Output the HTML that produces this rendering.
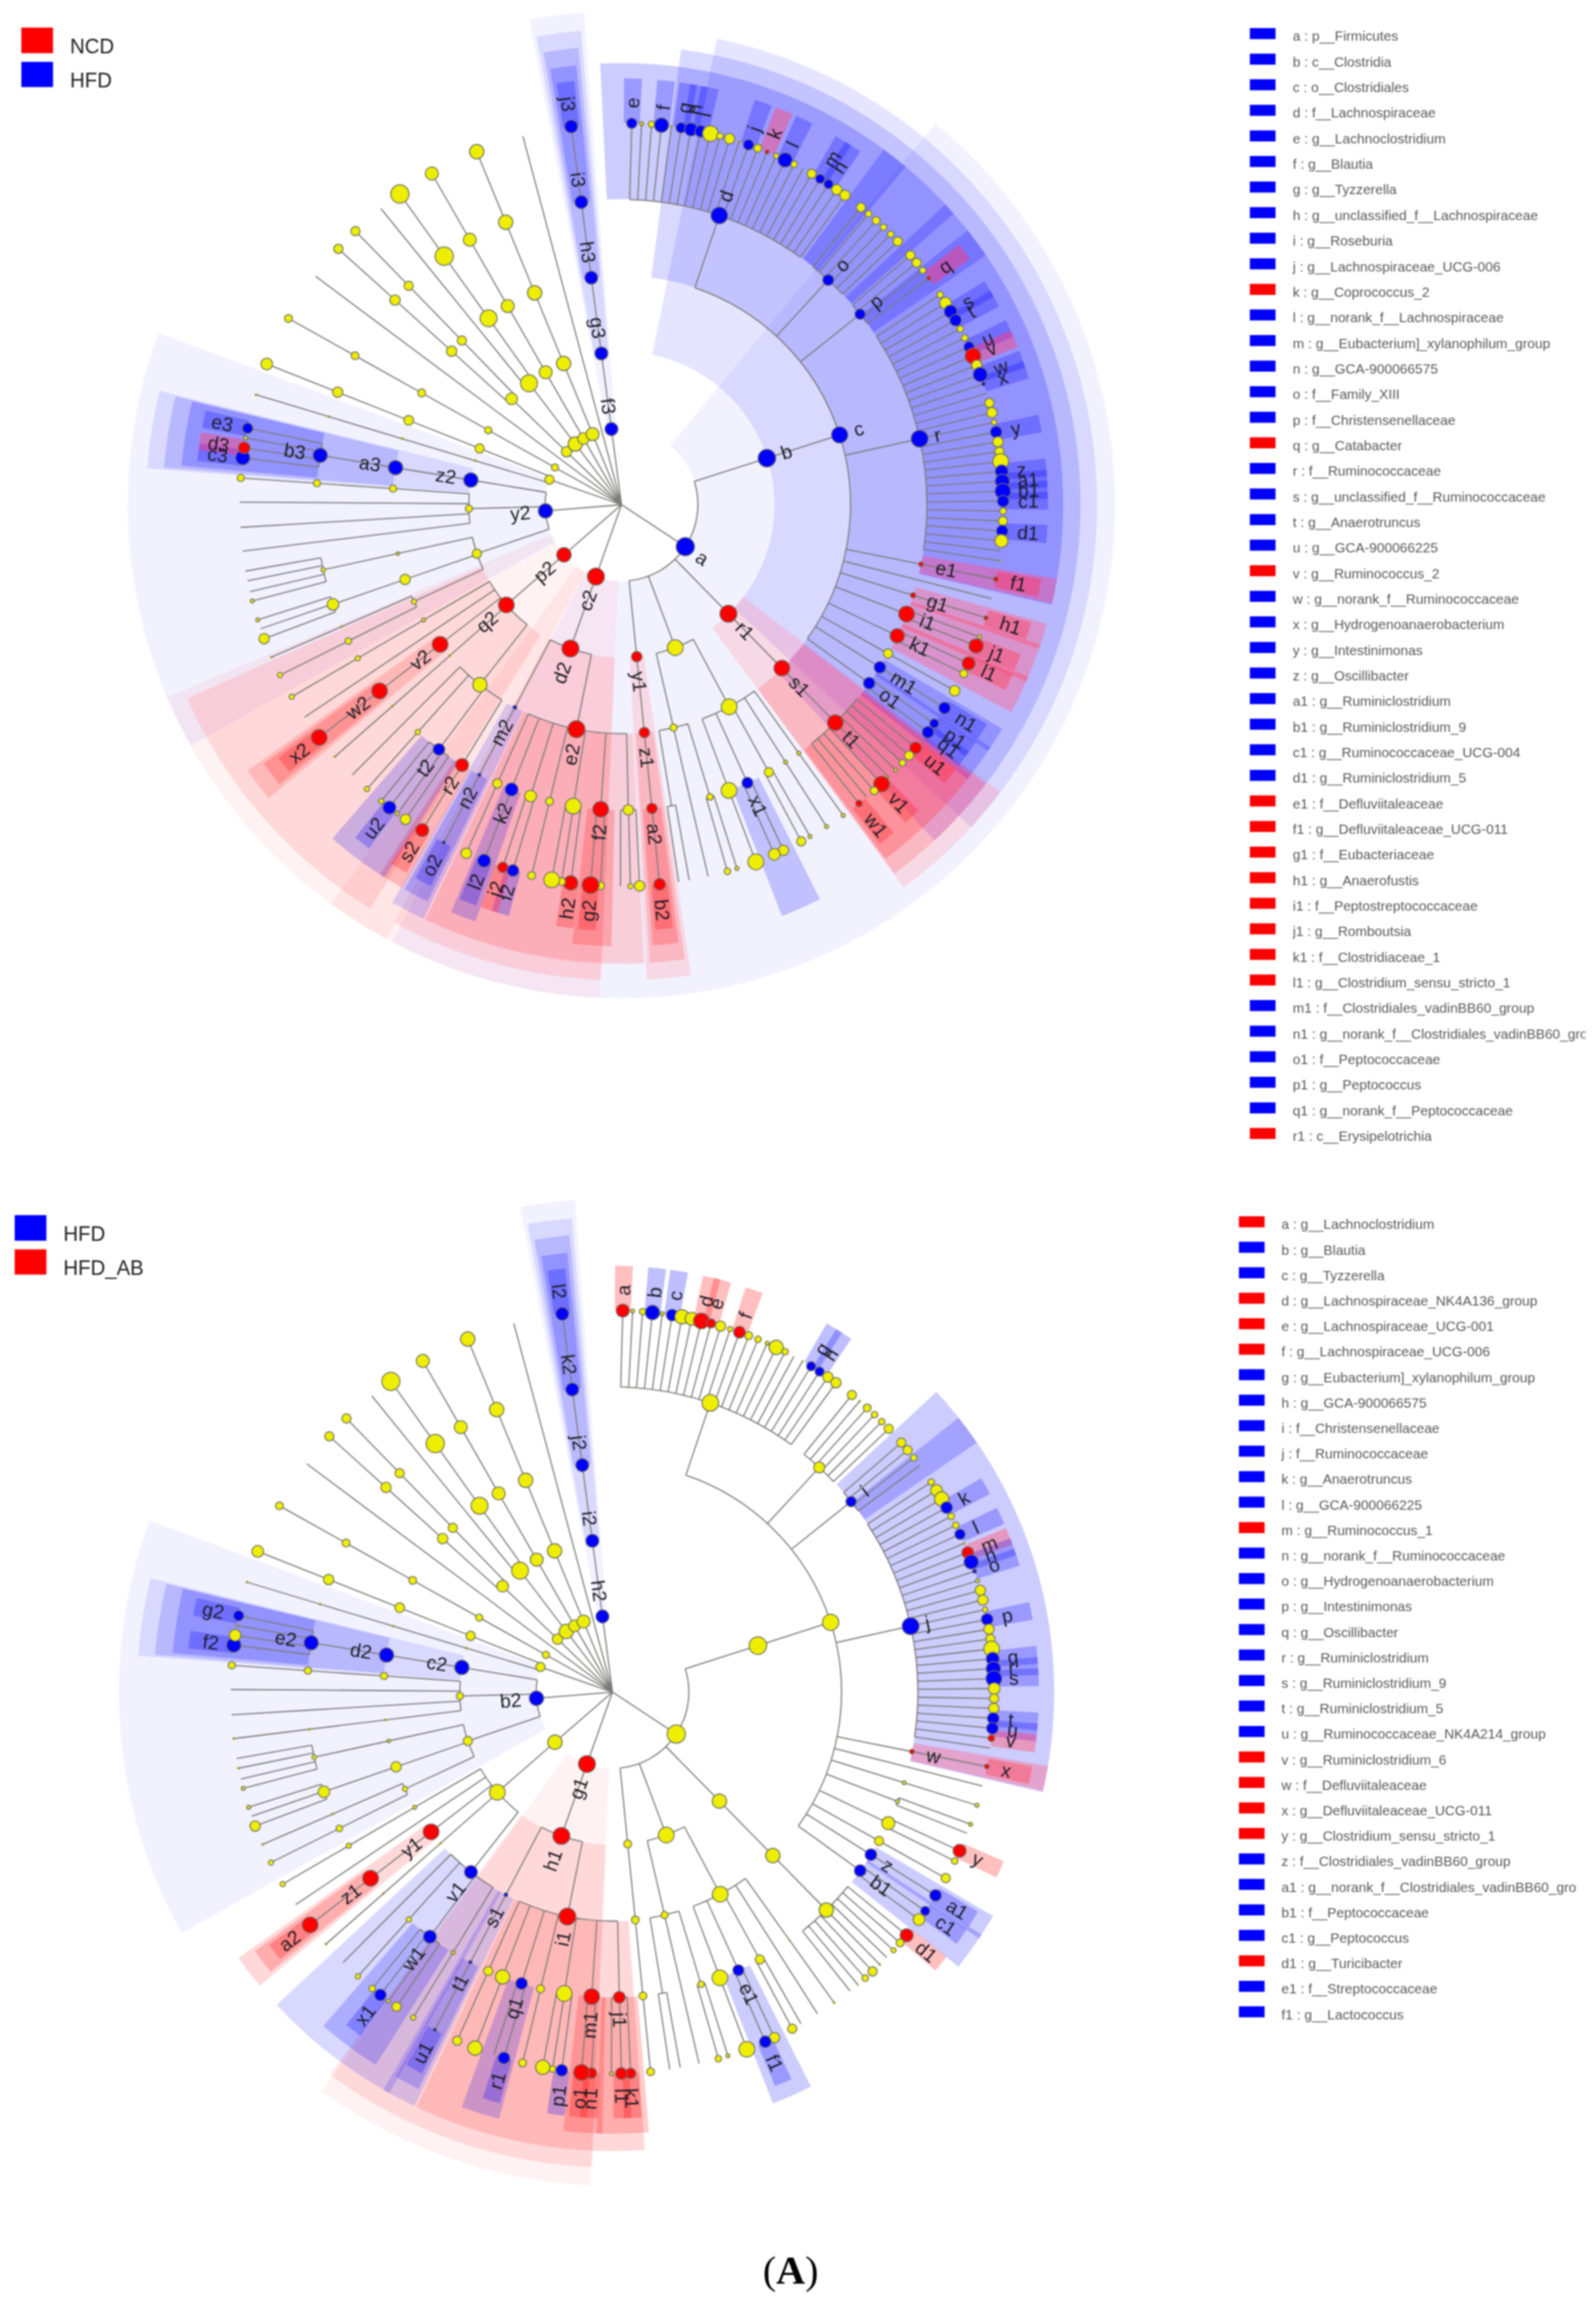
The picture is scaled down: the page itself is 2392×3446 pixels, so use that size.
<!DOCTYPE html>
<html lang="en"><head><meta charset="utf-8"><title>LEfSe cladograms (A)</title>
<style>html,body{margin:0;padding:0;background:#fff}svg{display:block;filter:blur(0.9px)}</style></head>
<body>
<svg width="2392" height="3446" viewBox="0 0 2392 3446" font-family="'Liberation Sans', sans-serif">
<rect width="2392" height="3446" fill="#fff"/>
<g id="clad-top">
<g stroke="none">
<path d="M1004.4 667.9A114.7 114.7 0 0 1 878.2 858.1L587.6 1411.7A740 740 0 0 0 1401.7 185.1Z" fill="#0000ff" fill-opacity="0.05"/>
<path d="M926.3 871.1A114.7 114.7 0 0 1 864 849.2L495.9 1354.7A740 740 0 0 0 897.8 1495.7Z" fill="#ff0000" fill-opacity="0.05"/>
<path d="M926.3 871.1A114.7 114.7 0 0 1 864 849.2L495.9 1354.7A740 740 0 0 0 897.8 1495.7Z" fill="#ff0000" fill-opacity="0.33" style="mix-blend-mode:lighten"/>
<path d="M877 857.4A114.7 114.7 0 0 1 825.9 801.2L250 1045A740 740 0 0 0 579.7 1407.5Z" fill="#ff0000" fill-opacity="0.05"/>
<path d="M877 857.4A114.7 114.7 0 0 1 825.9 801.2L250 1045A740 740 0 0 0 579.7 1407.5Z" fill="#ff0000" fill-opacity="0.33" style="mix-blend-mode:lighten"/>
<path d="M831.4 812.5A114.7 114.7 0 0 1 823.9 716.6L237.6 499.3A740 740 0 0 0 285.7 1117.7Z" fill="#0000ff" fill-opacity="0.05"/>
<path d="M910 643.8A114.7 114.7 0 0 1 922.8 642.1L875.1 18.7A740 740 0 0 0 793.1 29.6Z" fill="#0000ff" fill-opacity="0.05"/>
<path d="M977.4 532A229.1 229.1 0 0 1 1099.9 911.9L1455.5 1240A713 713 0 0 0 1074.4 58Z" fill="#0000ff" fill-opacity="0.10"/>
<path d="M1114 895A229.1 229.1 0 0 1 1067.5 940.9L1354.6 1330.4A713 713 0 0 0 1499.5 1187.5Z" fill="#ff0000" fill-opacity="0.10"/>
<path d="M1114 895A229.1 229.1 0 0 1 1067.5 940.9L1354.6 1330.4A713 713 0 0 0 1499.5 1187.5Z" fill="#ff0000" fill-opacity="0.33" style="mix-blend-mode:lighten"/>
<path d="M921.7 985.4A229.1 229.1 0 0 1 822.2 957.9L591.4 1383.2A713 713 0 0 0 900.9 1468.8Z" fill="#ff0000" fill-opacity="0.10"/>
<path d="M921.7 985.4A229.1 229.1 0 0 1 822.2 957.9L591.4 1383.2A713 713 0 0 0 900.9 1468.8Z" fill="#ff0000" fill-opacity="0.33" style="mix-blend-mode:lighten"/>
<path d="M810.5 951A229.1 229.1 0 0 1 722.3 849.8L280.3 1046.9A713 713 0 0 0 554.9 1362Z" fill="#ff0000" fill-opacity="0.10"/>
<path d="M810.5 951A229.1 229.1 0 0 1 722.3 849.8L280.3 1046.9A713 713 0 0 0 554.9 1362Z" fill="#ff0000" fill-opacity="0.33" style="mix-blend-mode:lighten"/>
<path d="M703.1 739A229.1 229.1 0 0 1 709.1 701.7L239.2 585.8A713 713 0 0 0 220.6 702.1Z" fill="#0000ff" fill-opacity="0.10"/>
<path d="M965.1 983.1A229.1 229.1 0 0 1 943.6 985.3L969.2 1468.5A713 713 0 0 0 1035.9 1461.8Z" fill="#ff0000" fill-opacity="0.10"/>
<path d="M965.1 983.1A229.1 229.1 0 0 1 943.6 985.3L969.2 1468.5A713 713 0 0 0 1035.9 1461.8Z" fill="#ff0000" fill-opacity="0.33" style="mix-blend-mode:lighten"/>
<path d="M890.6 531.1A229.1 229.1 0 0 1 912 528.2L870.9 46.1A713 713 0 0 0 804.2 54.9Z" fill="#0000ff" fill-opacity="0.10"/>
<path d="M976.1 415.9A343.5 343.5 0 0 1 1165.8 1007.7L1400.7 1259.7A688 688 0 0 0 1020.7 74.3Z" fill="#0000ff" fill-opacity="0.15"/>
<path d="M1204.1 965.6A343.5 343.5 0 0 1 1135.8 1032.6L1340.7 1309.6A688 688 0 0 0 1477.4 1175.2Z" fill="#ff0000" fill-opacity="0.15"/>
<path d="M1204.1 965.6A343.5 343.5 0 0 1 1135.8 1032.6L1340.7 1309.6A688 688 0 0 0 1477.4 1175.2Z" fill="#ff0000" fill-opacity="0.33" style="mix-blend-mode:lighten"/>
<path d="M948.5 1099.6A343.5 343.5 0 0 1 784.7 1067.1L637.5 1378.5A688 688 0 0 0 965.5 1443.7Z" fill="#ff0000" fill-opacity="0.15"/>
<path d="M948.5 1099.6A343.5 343.5 0 0 1 784.7 1067.1L637.5 1378.5A688 688 0 0 0 965.5 1443.7Z" fill="#ff0000" fill-opacity="0.33" style="mix-blend-mode:lighten"/>
<path d="M589.1 728.5A343.5 343.5 0 0 1 597.7 675.4L262.9 594.1A688 688 0 0 0 245.8 700.5Z" fill="#0000ff" fill-opacity="0.15"/>
<path d="M978.8 1096.7A343.5 343.5 0 0 1 952.6 1099.3L973.9 1443.2A688 688 0 0 0 1026.3 1437.9Z" fill="#ff0000" fill-opacity="0.15"/>
<path d="M978.8 1096.7A343.5 343.5 0 0 1 952.6 1099.3L973.9 1443.2A688 688 0 0 0 1026.3 1437.9Z" fill="#ff0000" fill-opacity="0.33" style="mix-blend-mode:lighten"/>
<path d="M783.4 1066.4A343.5 343.5 0 0 1 760.1 1054.2L588.2 1352.7A688 688 0 0 0 634.8 1377.2Z" fill="#0000ff" fill-opacity="0.15"/>
<path d="M667.5 976.3A343.5 343.5 0 0 1 651.5 955.5L370.7 1155A688 688 0 0 0 402.8 1196.7Z" fill="#ff0000" fill-opacity="0.15"/>
<path d="M667.5 976.3A343.5 343.5 0 0 1 651.5 955.5L370.7 1155A688 688 0 0 0 402.8 1196.7Z" fill="#ff0000" fill-opacity="0.33" style="mix-blend-mode:lighten"/>
<path d="M873.1 418A343.5 343.5 0 0 1 899.3 414.5L867.1 71.5A688 688 0 0 0 814.6 78.5Z" fill="#0000ff" fill-opacity="0.15"/>
<path d="M909.4 299.1A457.9 457.9 0 0 1 1226.1 406L1357.5 249.7A662 662 0 0 0 899.5 95.3Z" fill="#0000ff" fill-opacity="0.20"/>
<path d="M1203.5 388.1A457.9 457.9 0 0 1 1275.9 454.8L1429.4 320.3A662 662 0 0 0 1324.7 223.9Z" fill="#0000ff" fill-opacity="0.20"/>
<path d="M1267.3 445.2A457.9 457.9 0 0 1 1309.3 497.8L1477.7 382.5A662 662 0 0 0 1417 306.5Z" fill="#0000ff" fill-opacity="0.20"/>
<path d="M1290.3 472A457.9 457.9 0 0 1 1377.5 860.3L1576.3 906.5A662 662 0 0 0 1450.2 345.2Z" fill="#0000ff" fill-opacity="0.20"/>
<path d="M1382.9 833.2A457.9 457.9 0 0 1 1377.8 859.1L1576.7 904.8A662 662 0 0 0 1584.2 867.4Z" fill="#ff0000" fill-opacity="0.20"/>
<path d="M1382.9 833.2A457.9 457.9 0 0 1 1377.8 859.1L1576.7 904.8A662 662 0 0 0 1584.2 867.4Z" fill="#ff0000" fill-opacity="0.33" style="mix-blend-mode:lighten"/>
<path d="M1372.4 880.1A457.9 457.9 0 0 1 1364.3 906L1557.2 972.7A662 662 0 0 0 1568.9 935.1Z" fill="#ff0000" fill-opacity="0.20"/>
<path d="M1372.4 880.1A457.9 457.9 0 0 1 1364.3 906L1557.2 972.7A662 662 0 0 0 1568.9 935.1Z" fill="#ff0000" fill-opacity="0.33" style="mix-blend-mode:lighten"/>
<path d="M1365.7 901.9A457.9 457.9 0 0 1 1351 940L1538 1021.7A662 662 0 0 0 1559.3 966.7Z" fill="#ff0000" fill-opacity="0.20"/>
<path d="M1365.7 901.9A457.9 457.9 0 0 1 1351 940L1538 1021.7A662 662 0 0 0 1559.3 966.7Z" fill="#ff0000" fill-opacity="0.33" style="mix-blend-mode:lighten"/>
<path d="M1353.3 934.8A457.9 457.9 0 0 1 1335.7 971.7L1515.9 1067.6A662 662 0 0 0 1541.2 1014.3Z" fill="#ff0000" fill-opacity="0.20"/>
<path d="M1353.3 934.8A457.9 457.9 0 0 1 1335.7 971.7L1515.9 1067.6A662 662 0 0 0 1541.2 1014.3Z" fill="#ff0000" fill-opacity="0.33" style="mix-blend-mode:lighten"/>
<path d="M1326.1 988.8A457.9 457.9 0 0 1 1311.6 1011.8L1481.1 1125.6A662 662 0 0 0 1502 1092.3Z" fill="#0000ff" fill-opacity="0.20"/>
<path d="M1314.1 1008.1A457.9 457.9 0 0 1 1290.1 1041.2L1450 1168.1A662 662 0 0 0 1484.6 1120.3Z" fill="#0000ff" fill-opacity="0.20"/>
<path d="M1293.1 1037.4A457.9 457.9 0 0 1 1205.2 1123.6L1327.1 1287.3A662 662 0 0 0 1454.3 1162.6Z" fill="#ff0000" fill-opacity="0.20"/>
<path d="M1293.1 1037.4A457.9 457.9 0 0 1 1205.2 1123.6L1327.1 1287.3A662 662 0 0 0 1454.3 1162.6Z" fill="#ff0000" fill-opacity="0.33" style="mix-blend-mode:lighten"/>
<path d="M1137.3 1165.6A457.9 457.9 0 0 1 1097.9 1183.1L1172 1373.3A662 662 0 0 0 1229 1347.9Z" fill="#0000ff" fill-opacity="0.20"/>
<path d="M921 1214.3A457.9 457.9 0 0 1 880.5 1211.5L857.7 1414.4A662 662 0 0 0 916.3 1418.3Z" fill="#ff0000" fill-opacity="0.20"/>
<path d="M921 1214.3A457.9 457.9 0 0 1 880.5 1211.5L857.7 1414.4A662 662 0 0 0 916.3 1418.3Z" fill="#ff0000" fill-opacity="0.33" style="mix-blend-mode:lighten"/>
<path d="M780 1188.6A457.9 457.9 0 0 1 754.7 1178.9L676 1367.2A662 662 0 0 0 712.5 1381.2Z" fill="#0000ff" fill-opacity="0.20"/>
<path d="M704 1153.9A457.9 457.9 0 0 1 680.9 1139.8L569.3 1310.6A662 662 0 0 0 602.6 1331Z" fill="#ff0000" fill-opacity="0.20"/>
<path d="M704 1153.9A457.9 457.9 0 0 1 680.9 1139.8L569.3 1310.6A662 662 0 0 0 602.6 1331Z" fill="#ff0000" fill-opacity="0.33" style="mix-blend-mode:lighten"/>
<path d="M686 1143A457.9 457.9 0 0 1 631.7 1102.6L498.1 1256.9A662 662 0 0 0 576.5 1315.3Z" fill="#0000ff" fill-opacity="0.20"/>
<path d="M475.4 716A457.9 457.9 0 0 1 486.3 649.2L287.9 601.4A662 662 0 0 0 272.1 698Z" fill="#0000ff" fill-opacity="0.20"/>
<path d="M990.7 1210.6A457.9 457.9 0 0 1 963.7 1213.3L978 1416.9A662 662 0 0 0 1017 1413Z" fill="#ff0000" fill-opacity="0.20"/>
<path d="M990.7 1210.6A457.9 457.9 0 0 1 963.7 1213.3L978 1416.9A662 662 0 0 0 1017 1413Z" fill="#ff0000" fill-opacity="0.33" style="mix-blend-mode:lighten"/>
<path d="M730.4 1167.9A457.9 457.9 0 0 1 706.5 1155.3L606.2 1333A662 662 0 0 0 640.8 1351.3Z" fill="#0000ff" fill-opacity="0.20"/>
<path d="M577.1 1046.4A457.9 457.9 0 0 1 560.6 1025L395.2 1144.6A662 662 0 0 0 419.1 1175.7Z" fill="#ff0000" fill-opacity="0.20"/>
<path d="M577.1 1046.4A457.9 457.9 0 0 1 560.6 1025L395.2 1144.6A662 662 0 0 0 419.1 1175.7Z" fill="#ff0000" fill-opacity="0.33" style="mix-blend-mode:lighten"/>
<path d="M857.7 304.6A457.9 457.9 0 0 1 884.6 301L863.7 98A662 662 0 0 0 824.7 103.2Z" fill="#0000ff" fill-opacity="0.20"/>
<path d="M934.9 184.2A572.3 572.3 0 0 1 958.9 184.9L962.1 118.2A639 639 0 0 0 935.3 117.5Z" fill="#0000ff" fill-opacity="0.25"/>
<path d="M979.5 186.2A572.3 572.3 0 0 1 1003.4 188.7L1011.7 122.6A639 639 0 0 0 985.1 119.7Z" fill="#0000ff" fill-opacity="0.25"/>
<path d="M1009.1 189.5A572.3 572.3 0 0 1 1032.8 193.2L1044.6 127.6A639 639 0 0 0 1018.1 123.4Z" fill="#0000ff" fill-opacity="0.25"/>
<path d="M1023.8 191.7A572.3 572.3 0 0 1 1047.4 196.1L1060.9 130.7A639 639 0 0 0 1034.5 125.9Z" fill="#0000ff" fill-opacity="0.25"/>
<path d="M1038.4 194.3A572.3 572.3 0 0 1 1062 199.3L1077.2 134.3A639 639 0 0 0 1050.9 128.8Z" fill="#0000ff" fill-opacity="0.25"/>
<path d="M1110.5 212.9A572.3 572.3 0 0 1 1133.2 220.9L1156.7 158.5A639 639 0 0 0 1131.3 149.6Z" fill="#0000ff" fill-opacity="0.25"/>
<path d="M1138.5 223A572.3 572.3 0 0 1 1160.7 232.1L1187.5 171A639 639 0 0 0 1162.7 160.8Z" fill="#ff0000" fill-opacity="0.25"/>
<path d="M1138.5 223A572.3 572.3 0 0 1 1160.7 232.1L1187.5 171A639 639 0 0 0 1162.7 160.8Z" fill="#ff0000" fill-opacity="0.33" style="mix-blend-mode:lighten"/>
<path d="M1166 234.5A572.3 572.3 0 0 1 1187.7 244.8L1217.6 185.1A639 639 0 0 0 1193.3 173.6Z" fill="#0000ff" fill-opacity="0.25"/>
<path d="M1219 261.7A572.3 572.3 0 0 1 1239.5 274.2L1275.4 218A639 639 0 0 0 1252.5 204Z" fill="#0000ff" fill-opacity="0.25"/>
<path d="M1231.8 269.3A572.3 572.3 0 0 1 1252 282.4L1289.3 227.1A639 639 0 0 0 1266.8 212.5Z" fill="#0000ff" fill-opacity="0.25"/>
<path d="M1384.9 407.3A572.3 572.3 0 0 1 1399.2 426.6L1453.7 388.2A639 639 0 0 0 1437.7 366.5Z" fill="#ff0000" fill-opacity="0.25"/>
<path d="M1384.9 407.3A572.3 572.3 0 0 1 1399.2 426.6L1453.7 388.2A639 639 0 0 0 1437.7 366.5Z" fill="#ff0000" fill-opacity="0.33" style="mix-blend-mode:lighten"/>
<path d="M1418.9 456.5A572.3 572.3 0 0 1 1431.1 477.3L1489.3 444.7A639 639 0 0 0 1475.7 421.6Z" fill="#0000ff" fill-opacity="0.25"/>
<path d="M1426.5 469.3A572.3 572.3 0 0 1 1438.2 490.4L1497.2 459.4A639 639 0 0 0 1484.2 435.9Z" fill="#0000ff" fill-opacity="0.25"/>
<path d="M1447.5 508.9A572.3 572.3 0 0 1 1457.4 530.8L1518.7 504.5A639 639 0 0 0 1507.6 480.1Z" fill="#0000ff" fill-opacity="0.25"/>
<path d="M1453.8 522.5A572.3 572.3 0 0 1 1463.1 544.6L1525.1 519.9A639 639 0 0 0 1514.6 495.2Z" fill="#ff0000" fill-opacity="0.25"/>
<path d="M1453.8 522.5A572.3 572.3 0 0 1 1463.1 544.6L1525.1 519.9A639 639 0 0 0 1514.6 495.2Z" fill="#ff0000" fill-opacity="0.33" style="mix-blend-mode:lighten"/>
<path d="M1465.2 550A572.3 572.3 0 0 1 1473.4 572.6L1536.6 551.2A639 639 0 0 0 1527.5 525.9Z" fill="#0000ff" fill-opacity="0.25"/>
<path d="M1470.4 564A572.3 572.3 0 0 1 1478.1 586.8L1541.8 567A639 639 0 0 0 1533.3 541.5Z" fill="#0000ff" fill-opacity="0.25"/>
<path d="M1490.9 635.7A572.3 572.3 0 0 1 1495.5 659.3L1561.2 648A639 639 0 0 0 1556.1 621.6Z" fill="#0000ff" fill-opacity="0.25"/>
<path d="M1500.4 694.6A572.3 572.3 0 0 1 1502.5 718.5L1569.1 714.1A639 639 0 0 0 1566.7 687.3Z" fill="#0000ff" fill-opacity="0.25"/>
<path d="M1501.9 709.4A572.3 572.3 0 0 1 1503.3 733.4L1570 730.7A639 639 0 0 0 1568.3 703.9Z" fill="#0000ff" fill-opacity="0.25"/>
<path d="M1502.9 724.3A572.3 572.3 0 0 1 1503.7 748.3L1570.4 747.4A639 639 0 0 0 1569.5 720.5Z" fill="#0000ff" fill-opacity="0.25"/>
<path d="M1503.5 739.2A572.3 572.3 0 0 1 1503.8 763.2L1570.5 764A639 639 0 0 0 1570.2 737.2Z" fill="#0000ff" fill-opacity="0.25"/>
<path d="M1503.1 783.9A572.3 572.3 0 0 1 1501.5 807.9L1567.9 813.9A639 639 0 0 0 1569.8 787.1Z" fill="#0000ff" fill-opacity="0.25"/>
<path d="M1495 856.3A572.3 572.3 0 0 1 1490.3 879.9L1555.5 894.2A639 639 0 0 0 1560.7 867.9Z" fill="#ff0000" fill-opacity="0.25"/>
<path d="M1495 856.3A572.3 572.3 0 0 1 1490.3 879.9L1555.5 894.2A639 639 0 0 0 1560.7 867.9Z" fill="#ff0000" fill-opacity="0.33" style="mix-blend-mode:lighten"/>
<path d="M1481.5 914.8A572.3 572.3 0 0 1 1474.4 937.7L1537.6 958.8A639 639 0 0 0 1545.6 933.2Z" fill="#ff0000" fill-opacity="0.25"/>
<path d="M1481.5 914.8A572.3 572.3 0 0 1 1474.4 937.7L1537.6 958.8A639 639 0 0 0 1545.6 933.2Z" fill="#ff0000" fill-opacity="0.33" style="mix-blend-mode:lighten"/>
<path d="M1467.5 957.1A572.3 572.3 0 0 1 1458.6 979.4L1520.1 1005.3A639 639 0 0 0 1530 980.4Z" fill="#ff0000" fill-opacity="0.25"/>
<path d="M1467.5 957.1A572.3 572.3 0 0 1 1458.6 979.4L1520.1 1005.3A639 639 0 0 0 1530 980.4Z" fill="#ff0000" fill-opacity="0.33" style="mix-blend-mode:lighten"/>
<path d="M1456.8 983.5A572.3 572.3 0 0 1 1446.9 1005.4L1506.9 1034.4A639 639 0 0 0 1518.1 1010Z" fill="#ff0000" fill-opacity="0.25"/>
<path d="M1456.8 983.5A572.3 572.3 0 0 1 1446.9 1005.4L1506.9 1034.4A639 639 0 0 0 1518.1 1010Z" fill="#ff0000" fill-opacity="0.33" style="mix-blend-mode:lighten"/>
<path d="M1422.1 1051.1A572.3 572.3 0 0 1 1409.4 1071.4L1465.1 1108.1A639 639 0 0 0 1479.3 1085.4Z" fill="#0000ff" fill-opacity="0.25"/>
<path d="M1407.1 1074.8A572.3 572.3 0 0 1 1393.4 1094.4L1447.2 1133.8A639 639 0 0 0 1462.6 1111.8Z" fill="#0000ff" fill-opacity="0.25"/>
<path d="M1398.1 1087.9A572.3 572.3 0 0 1 1383.8 1107.2L1436.5 1148.1A639 639 0 0 0 1452.4 1126.6Z" fill="#0000ff" fill-opacity="0.25"/>
<path d="M1380.1 1111.9A572.3 572.3 0 0 1 1364.8 1130.4L1415.3 1174A639 639 0 0 0 1432.3 1153.3Z" fill="#ff0000" fill-opacity="0.25"/>
<path d="M1380.1 1111.9A572.3 572.3 0 0 1 1364.8 1130.4L1415.3 1174A639 639 0 0 0 1432.3 1153.3Z" fill="#ff0000" fill-opacity="0.33" style="mix-blend-mode:lighten"/>
<path d="M1330.1 1167.1A572.3 572.3 0 0 1 1312.6 1183.5L1357 1233.2A639 639 0 0 0 1376.6 1215Z" fill="#ff0000" fill-opacity="0.25"/>
<path d="M1330.1 1167.1A572.3 572.3 0 0 1 1312.6 1183.5L1357 1233.2A639 639 0 0 0 1376.6 1215Z" fill="#ff0000" fill-opacity="0.33" style="mix-blend-mode:lighten"/>
<path d="M1296.9 1197A572.3 572.3 0 0 1 1278.1 1211.9L1318.6 1264.9A639 639 0 0 0 1339.5 1248.3Z" fill="#ff0000" fill-opacity="0.25"/>
<path d="M1296.9 1197A572.3 572.3 0 0 1 1278.1 1211.9L1318.6 1264.9A639 639 0 0 0 1339.5 1248.3Z" fill="#ff0000" fill-opacity="0.33" style="mix-blend-mode:lighten"/>
<path d="M1000.5 1324.6A572.3 572.3 0 0 1 976.7 1327L981.9 1393.5A639 639 0 0 0 1008.5 1390.8Z" fill="#ff0000" fill-opacity="0.25"/>
<path d="M1000.5 1324.6A572.3 572.3 0 0 1 976.7 1327L981.9 1393.5A639 639 0 0 0 1008.5 1390.8Z" fill="#ff0000" fill-opacity="0.33" style="mix-blend-mode:lighten"/>
<path d="M897 1327.8A572.3 572.3 0 0 1 873.2 1325.8L866.4 1392.2A639 639 0 0 0 893 1394.3Z" fill="#ff0000" fill-opacity="0.25"/>
<path d="M897 1327.8A572.3 572.3 0 0 1 873.2 1325.8L866.4 1392.2A639 639 0 0 0 893 1394.3Z" fill="#ff0000" fill-opacity="0.33" style="mix-blend-mode:lighten"/>
<path d="M867.2 1325.2A572.3 572.3 0 0 1 843.5 1322L833.3 1387.9A639 639 0 0 0 859.7 1391.5Z" fill="#ff0000" fill-opacity="0.25"/>
<path d="M867.2 1325.2A572.3 572.3 0 0 1 843.5 1322L833.3 1387.9A639 639 0 0 0 859.7 1391.5Z" fill="#ff0000" fill-opacity="0.33" style="mix-blend-mode:lighten"/>
<path d="M780.2 1308.4A572.3 572.3 0 0 1 757.3 1301.6L737 1365.2A639 639 0 0 0 762.6 1372.8Z" fill="#0000ff" fill-opacity="0.25"/>
<path d="M764.9 1304A572.3 572.3 0 0 1 742.2 1296.6L720.1 1359.5A639 639 0 0 0 745.5 1367.8Z" fill="#ff0000" fill-opacity="0.25"/>
<path d="M764.9 1304A572.3 572.3 0 0 1 742.2 1296.6L720.1 1359.5A639 639 0 0 0 745.5 1367.8Z" fill="#ff0000" fill-opacity="0.33" style="mix-blend-mode:lighten"/>
<path d="M736.6 1294.6A572.3 572.3 0 0 1 714.3 1286L688.9 1347.7A639 639 0 0 0 713.8 1357.3Z" fill="#0000ff" fill-opacity="0.25"/>
<path d="M675.7 1268.5A572.3 572.3 0 0 1 654.6 1257.3L622.3 1315.7A639 639 0 0 0 645.9 1328.1Z" fill="#0000ff" fill-opacity="0.25"/>
<path d="M642.9 1250.7A572.3 572.3 0 0 1 622.5 1238.2L586.5 1294.4A639 639 0 0 0 609.3 1308.3Z" fill="#ff0000" fill-opacity="0.25"/>
<path d="M642.9 1250.7A572.3 572.3 0 0 1 622.5 1238.2L586.5 1294.4A639 639 0 0 0 609.3 1308.3Z" fill="#ff0000" fill-opacity="0.33" style="mix-blend-mode:lighten"/>
<path d="M593 1217.9A572.3 572.3 0 0 1 574 1203.4L532.3 1255.5A639 639 0 0 0 553.5 1271.7Z" fill="#0000ff" fill-opacity="0.25"/>
<path d="M485.4 1115A572.3 572.3 0 0 1 470.8 1096.1L417.1 1135.7A639 639 0 0 0 433.4 1156.8Z" fill="#ff0000" fill-opacity="0.25"/>
<path d="M485.4 1115A572.3 572.3 0 0 1 470.8 1096.1L417.1 1135.7A639 639 0 0 0 433.4 1156.8Z" fill="#ff0000" fill-opacity="0.33" style="mix-blend-mode:lighten"/>
<path d="M362.2 698A572.3 572.3 0 0 1 365.1 674.3L299.1 664.7A639 639 0 0 0 295.8 691.2Z" fill="#0000ff" fill-opacity="0.25"/>
<path d="M363.9 683.1A572.3 572.3 0 0 1 367.5 659.5L301.7 648.2A639 639 0 0 0 297.8 674.6Z" fill="#ff0000" fill-opacity="0.25"/>
<path d="M363.9 683.1A572.3 572.3 0 0 1 367.5 659.5L301.7 648.2A639 639 0 0 0 297.8 674.6Z" fill="#ff0000" fill-opacity="0.33" style="mix-blend-mode:lighten"/>
<path d="M368.5 653.6A572.3 572.3 0 0 1 373.3 630.2L308.3 615.5A639 639 0 0 0 302.9 641.6Z" fill="#0000ff" fill-opacity="0.25"/>
<path d="M844.2 190.9A572.3 572.3 0 0 1 868 187.7L860.5 121.5A639 639 0 0 0 834 125Z" fill="#0000ff" fill-opacity="0.25"/>
</g>
<path d="M931.5 756.5L1027.1 819.4M1040.5 721.6A114.4 114.4 0 0 1 942.9 870.3M1040.5 721.6L1149.4 686.8M1149.4 686.8L1258.4 651.9M1041.4 431.4A343.2 343.2 0 0 1 1209.9 957.2M1041.4 431.4L1078.1 323M943.8 299.1A457.6 457.6 0 0 1 1199.4 385.5M943.8 299.1L946.9 184.7M955.7 299.5L961.7 185.3M967.6 300.3L976.6 186.3M979.4 301.4L991.4 187.6M991.2 302.8L1006.2 189.4M1003 304.5L1020.9 191.5M1014.8 306.5L1035.6 194M1026.4 308.9L1050.2 196.9M1038 311.5L1064.7 200.2M1049.6 314.4L1079.1 203.9M1061 317.6L1093.4 207.9M1072.4 321.1L1107.7 212.3M1083.7 325L1121.8 217.1M1094.9 329.1L1135.7 222.2M1106 333.5L1149.6 227.7M1116.9 338.1L1163.3 233.6M1127.7 343.1L1176.8 239.8M1138.4 348.4L1190.2 246.3M1149 353.9L1203.4 253.2M1159.4 359.7L1216.4 260.5M1169.6 365.7L1229.2 268.1M1179.7 372.1L1241.8 276M1189.7 378.7L1254.2 284.2M1199.4 385.5L1266.4 292.8M1163.8 503.9L1241.3 419.7M1218.5 400.1A457.6 457.6 0 0 1 1262.7 440.8M1218.5 400.1L1290.3 311M1227.8 407.8L1301.8 320.6M1236.8 415.7L1313.2 330.5M1245.7 423.8L1324.2 340.6M1254.3 432.2L1335 351.1M1262.7 440.8L1345.5 361.8M1199.7 542.3L1289.1 470.9M1277.8 457.4A457.6 457.6 0 0 1 1299.8 484.9M1277.8 457.4L1364.4 382.6M1285.4 466.4L1373.8 393.8M1292.7 475.6L1383 405.3M1299.8 484.9L1391.9 417M1266.6 682.3L1378.3 657.6M1313.6 504.6A457.6 457.6 0 0 1 1384.2 823.6M1313.6 504.6L1409.1 441.7M1320 514.7L1417.1 454.2M1326.2 524.9L1424.8 467M1332.1 535.3L1432.2 480M1337.7 545.8L1439.2 493.1M1343.1 556.5L1445.9 506.4M1348.1 567.2L1452.3 519.9M1352.9 578.2L1458.3 533.6M1357.4 589.2L1463.9 547.4M1361.6 600.4L1469.2 561.4M1365.6 611.7L1474.1 575.4M1369.2 623L1478.6 589.7M1372.5 634.5L1482.8 604M1375.6 646L1486.6 618.4M1378.3 657.6L1490 632.9M1380.7 669.3L1493 647.5M1382.8 681.1L1495.7 662.2M1384.7 692.8L1497.9 676.9M1386.2 704.7L1499.8 691.7M1387.4 716.5L1501.3 706.6M1388.2 728.4L1502.4 721.4M1388.8 740.4L1503.1 736.3M1389.1 752.3L1503.5 751.2M1389 764.2L1503.4 766.1M1388.7 776.1L1503 781M1388 788L1502.1 795.9M1387 799.9L1500.9 810.8M1385.8 811.8L1499.3 825.6M1384.2 823.6L1497.3 840.3M1268.1 823.4L1380.3 845.7M1380.3 845.7L1492.5 868M1264.1 841L1375 869.1M1375 869.1L1485.9 897.3M1259.2 858.3L1368.5 892.3M1368.5 892.3L1477.7 926.2M1251.9 879.4L1358.7 920.4M1360.8 915A457.6 457.6 0 0 1 1356.6 925.8M1360.8 915L1468.1 954.6M1356.6 925.8L1462.9 968.2M1241.5 903.8L1344.8 953M1347.7 946.8A457.6 457.6 0 0 1 1341.8 959.1M1347.7 946.8L1451.7 994.4M1341.8 959.1L1444.4 1009.7M1231.1 923.8L1331 979.6M1331 979.6L1430.9 1035.4M1222 939.3L1318.8 1000.2M1318.8 1000.2L1415.6 1061.2M1209.9 957.2L1302.7 1024.1M1306.4 1018.9A457.6 457.6 0 0 1 1298.9 1029.3M1306.4 1018.9L1400.1 1084.5M1298.9 1029.3L1390.8 1097.5M1011.6 838.2L1091.7 919.9M1091.7 919.9L1171.8 1001.5M1171.8 1001.5L1251.9 1083.2M1284.1 1048.1A457.6 457.6 0 0 1 1216.2 1114.7M1284.1 1048.1L1372.3 1121M1276.4 1057.2L1362.6 1132.4M1268.5 1066.1L1352.7 1143.5M1260.3 1074.8L1342.5 1154.3M1251.9 1083.2L1332 1164.9M1243.3 1091.4L1321.3 1175.2M1234.5 1099.4L1310.2 1185.2M1225.5 1107.2L1299 1194.9M1216.2 1114.7L1287.4 1204.3M971.7 863.6L1012 970.7M1039.1 958.4A228.8 228.8 0 0 1 983.5 979.3M1039.1 958.4L1092.9 1059.4M1130.8 1035.9A343.2 343.2 0 0 1 1052.3 1077.7M1130.8 1035.9L1197.2 1129M1197.2 1129L1263.7 1222.2M1115.9 1046L1177.4 1142.4M1177.4 1142.4L1238.8 1238.9M1097.1 1057.1L1152.3 1157.3M1157.5 1154.4A457.6 457.6 0 0 1 1147 1160.2M1157.5 1154.4L1214 1253.8M1147 1160.2L1200.9 1261.1M1073 1069.2L1120.2 1173.4M1125.6 1170.9A457.6 457.6 0 0 1 1114.7 1175.8M1125.6 1170.9L1174.2 1274.5M1114.7 1175.8L1160.5 1280.6M1052.3 1077.7L1092.5 1184.8M1092.5 1184.8L1132.8 1291.9M983.5 979.3L1009.5 1090.7M1031 1084.9A343.2 343.2 0 0 1 987.7 1095.1M1031 1084.9L1064.2 1194.4M1069.9 1192.7A457.6 457.6 0 0 1 1058.5 1196.1M1069.9 1192.7L1104.5 1301.7M1058.5 1196.1L1090.2 1306M1009.4 1090.7L1035.3 1202.2M1035.3 1202.2L1061.3 1313.6M987.7 1095.1L1006.4 1207.9M1012.7 1206.8A457.6 457.6 0 0 1 1000.1 1208.9M1012.7 1206.8L1033 1319.4M1000.1 1208.9L1017.2 1322M942.9 870.3L954.3 984.2M954.3 984.2L965.7 1098M965.7 1098L977.1 1211.8M977.1 1211.8L988.6 1325.6M931.5 756.5L893.2 864.3M893.2 864.3L854.9 972.1M886.4 980.8A228.8 228.8 0 0 1 825 959M886.4 980.8L863.9 1093M939.2 1099.6A343.2 343.2 0 0 1 791.9 1070M939.2 1099.6L941.7 1214M953.3 1213.6A457.6 457.6 0 0 1 930.2 1214.1M953.3 1213.6L958.7 1327.9M942.1 1214L944.8 1328.3M930.2 1214.1L929.9 1328.5M908.1 1098.9L900.3 1213M906.3 1213.4A457.6 457.6 0 0 1 894.4 1212.6M906.3 1213.4L900 1327.6M894.4 1212.6L885.1 1326.6M877.3 1095.4L859.2 1208.3M870.6 1210A457.6 457.6 0 0 1 847.8 1206.4M870.6 1210L855.4 1323.4M859.6 1208.4L841.6 1321.4M847.8 1206.4L826.9 1318.8M850.6 1090L823.6 1201.2M823.6 1201.2L796.7 1312.4M829.3 1084.1L795.2 1193.3M801.3 1195.2A457.6 457.6 0 0 1 789.2 1191.4M801.3 1195.2L768.8 1304.9M789.2 1191.4L753.6 1300.1M807.9 1076.7L766.7 1183.4M766.7 1183.4L725.5 1290.1M791.9 1070L745.4 1174.5M745.4 1174.5L698.8 1279M825 959L771.7 1060.3M771.7 1060.3L718.5 1161.5M718.5 1161.5L665.2 1262.8M931.5 756.5L845.2 831.6M845.2 831.6L758.9 906.7M790.1 936.3A228.8 228.8 0 0 1 733.8 871.6M790.1 936.3L719.3 1026.3M752.3 1049.2A343.2 343.2 0 0 1 689.3 999.7M752.3 1049.2L692.5 1146.8M692.5 1146.8L632.8 1244.3M726.2 1031.5L657.8 1123.2M672.5 1133.8A457.6 457.6 0 0 1 643.4 1112M672.5 1133.8L607.8 1228.1M662.8 1126.9L595.6 1219.5M653.2 1119.7L583.6 1210.5M643.4 1112L571.4 1200.9M702.5 1012.2L626.2 1097.4M626.2 1097.4L549.9 1182.6M689.3 999.7L608.6 1080.7M608.6 1080.7L527.8 1161.8M759.7 907.6L673.8 983.1M673.8 983.1L587.9 1058.7M587.9 1058.7L502 1134.2M750.2 896.1L659.6 965.9M659.6 965.9L568.9 1035.6M568.9 1035.6L478.3 1105.4M741.5 884L646.5 947.7M646.5 947.7L551.5 1011.4M551.5 1011.4L456.5 1075.1M733.8 871.6L634.9 929.2M634.9 929.2L536.1 986.8M536.1 986.8L437.2 1044.4M931.5 756.5L817.5 765.8M823.1 793.1A114.4 114.4 0 0 1 818.6 738M823.1 793.1L714.7 829.8M724.2 853.3A228.8 228.8 0 0 1 708 805.3M724.2 853.3L620.5 901.7M624.4 909.8A343.2 343.2 0 0 1 616.9 893.6M624.4 909.8L522.1 960.9M522.1 960.9L419.7 1012M616.9 893.6L512 939.3M512 939.3L407.1 984.9M715.2 831.2L607.1 868.5M607.1 868.5L499 905.9M503 917.1A457.6 457.6 0 0 1 495.2 894.6M503 917.1L395.9 957.3M498.8 905.3L390.6 942.5M495.2 894.6L386.2 929.1M708 805.3L596.2 829.7M596.2 829.7L484.4 854.1M488.7 871.9A457.6 457.6 0 0 1 480.9 836.1M488.7 871.9L378 900.8M485.9 860.8L374.6 886.9M483.1 847.9L371 870.7M480.9 836.1L368.2 856M817.1 759.5L702.8 762.4M704.4 784.4A228.8 228.8 0 0 1 703.3 740.4M704.4 784.4L590.9 798.3M590.9 798.3L477.3 812.2M477.3 812.2L363.8 826.2M703.1 770.1L588.9 776.9M588.9 776.9L474.7 783.7M474.7 783.7L360.5 790.5M702.7 755L588.3 754.2M588.3 754.2L473.9 753.4M473.9 753.4L359.5 752.7M703.3 740.4L589.1 732.4M589.1 732.4L475 724.4M475 724.4L360.9 716.4M818.6 738L705.7 719.5M705.7 719.5L592.8 701M592.8 701L479.9 682.5M477.4 700.2A457.6 457.6 0 0 1 483.2 664.8M477.4 700.2L363.8 686.1M479 688.4L365.9 671.3M480.9 676.6L368.3 656.6M483.2 664.8L371.1 641.9M931.5 756.5L823.5 718.9M821.9 723.5A114.4 114.4 0 0 1 825.2 714.3M821.9 723.5L712.4 690.6M712.4 690.6L602.8 657.6M602.8 657.6L493.3 624.7M493.3 624.7L383.7 591.7M825.2 714.3L718.8 672.2M718.8 672.2L612.5 630M612.5 630L506.1 587.8M506.1 587.8L399.8 545.6M931.5 756.5L831.7 700.7M831.7 700.7L731.8 644.8M731.8 644.8L632 589M632 589L532.1 533.1M532.1 533.1L432.3 477.3M931.5 756.5L839.8 688.1M839.8 688.1L748.2 619.6M748.2 619.6L656.5 551.2M656.5 551.2L564.8 482.7M564.8 482.7L473.2 414.3M931.5 756.5L849.1 677.1M849.1 677.1L766.8 597.7M761.7 603.1A228.8 228.8 0 0 1 772 592.5M761.7 603.1L676.9 526.4M676.9 526.4L592 449.7M592 449.7L507.1 373M772 592.5L692.2 510.4M692.2 510.4L612.5 428.4M612.5 428.4L532.7 346.4M931.5 756.5L862.2 665.5M862.2 665.5L792.9 574.5M787.2 578.9A228.8 228.8 0 0 1 798.6 570.2M787.2 578.9L715.1 490.2M715.1 490.2L642.9 401.4M642.9 401.4L570.8 312.6M798.6 570.2L732.2 477.1M732.2 477.1L665.8 384M665.8 384L599.3 290.8M931.5 756.5L874.6 657.2M874.6 657.2L817.8 558M817.8 558L760.9 458.7M760.9 458.7L704.1 359.4M704.1 359.4L647.2 260.1M931.5 756.5L888.1 650.7M888.1 650.7L844.7 544.8M844.7 544.8L801.3 439M801.3 439L757.9 333.1M757.9 333.1L714.5 227.3M931.5 756.5L901.9 646M901.9 646L872.3 535.5M872.3 535.5L842.7 425M842.7 425L813.2 314.5M813.2 314.5L783.6 204M931.5 756.5L916.4 643.1M916.4 643.1L901.3 529.7M901.3 529.7L886.2 416.3M886.2 416.3L871.2 302.9M871.2 302.9L856.1 189.5" fill="none" stroke="#7c7c7a" stroke-width="1.8"/>
<g stroke="#6e6e68" stroke-width="1.5">
<circle cx="1027.1" cy="819.4" r="13.7" fill="#0000ff"/>
<circle cx="1149.4" cy="686.8" r="13.2" fill="#0000ff"/>
<circle cx="1258.4" cy="651.9" r="12.2" fill="#0000ff"/>
<circle cx="1078.1" cy="323" r="12.5" fill="#0000ff"/>
<circle cx="946.9" cy="184.7" r="7.8" fill="#0000ff"/>
<circle cx="961.7" cy="185.3" r="2.9" fill="#eeee00"/>
<circle cx="976.6" cy="186.3" r="4.9" fill="#eeee00"/>
<circle cx="991.4" cy="187.6" r="10.8" fill="#0000ff"/>
<circle cx="1006.2" cy="189.4" r="2" fill="#9a9a20" stroke="none"/>
<circle cx="1020.9" cy="191.5" r="7.8" fill="#0000ff"/>
<circle cx="1035.6" cy="194" r="9.8" fill="#0000ff"/>
<circle cx="1050.2" cy="196.9" r="8.8" fill="#0000ff"/>
<circle cx="1064.7" cy="200.2" r="11.8" fill="#eeee00"/>
<circle cx="1079.1" cy="203.9" r="4.9" fill="#eeee00"/>
<circle cx="1093.4" cy="207.9" r="7.8" fill="#eeee00"/>
<circle cx="1107.7" cy="212.3" r="2" fill="#9a9a20" stroke="none"/>
<circle cx="1121.8" cy="217.1" r="7.8" fill="#0000ff"/>
<circle cx="1135.7" cy="222.2" r="5.9" fill="#eeee00"/>
<circle cx="1149.6" cy="227.7" r="2.9" fill="#ff0000"/>
<circle cx="1163.3" cy="233.6" r="3.9" fill="#eeee00"/>
<circle cx="1176.8" cy="239.8" r="10.8" fill="#0000ff"/>
<circle cx="1190.2" cy="246.3" r="4.9" fill="#eeee00"/>
<circle cx="1216.4" cy="260.5" r="6.9" fill="#eeee00"/>
<circle cx="1229.2" cy="268.1" r="6.9" fill="#0000ff"/>
<circle cx="1241.8" cy="276" r="6.9" fill="#0000ff"/>
<circle cx="1254.2" cy="284.2" r="7.8" fill="#eeee00"/>
<circle cx="1266.4" cy="292.8" r="7.8" fill="#eeee00"/>
<circle cx="1241.3" cy="419.7" r="8.3" fill="#0000ff"/>
<circle cx="1290.3" cy="311" r="6.9" fill="#eeee00"/>
<circle cx="1301.8" cy="320.6" r="4.9" fill="#eeee00"/>
<circle cx="1313.2" cy="330.5" r="5.9" fill="#eeee00"/>
<circle cx="1324.2" cy="340.6" r="4.9" fill="#eeee00"/>
<circle cx="1335" cy="351.1" r="4.9" fill="#eeee00"/>
<circle cx="1345.5" cy="361.8" r="6.9" fill="#eeee00"/>
<circle cx="1289.1" cy="470.9" r="7.8" fill="#0000ff"/>
<circle cx="1364.4" cy="382.6" r="6.9" fill="#eeee00"/>
<circle cx="1373.8" cy="393.8" r="6.9" fill="#eeee00"/>
<circle cx="1383" cy="405.3" r="4.9" fill="#eeee00"/>
<circle cx="1391.9" cy="417" r="2.9" fill="#ff0000"/>
<circle cx="1378.3" cy="657.6" r="12.7" fill="#0000ff"/>
<circle cx="1409.1" cy="441.7" r="4.9" fill="#eeee00"/>
<circle cx="1417.1" cy="454.2" r="8.8" fill="#eeee00"/>
<circle cx="1424.8" cy="467" r="9.8" fill="#0000ff"/>
<circle cx="1432.2" cy="480" r="8.8" fill="#0000ff"/>
<circle cx="1439.2" cy="493.1" r="4.9" fill="#eeee00"/>
<circle cx="1445.9" cy="506.4" r="4.9" fill="#eeee00"/>
<circle cx="1452.3" cy="519.9" r="7.8" fill="#0000ff"/>
<circle cx="1458.3" cy="533.6" r="11.8" fill="#ff0000"/>
<circle cx="1463.9" cy="547.4" r="7.8" fill="#eeee00"/>
<circle cx="1469.2" cy="561.4" r="10.8" fill="#0000ff"/>
<circle cx="1474.1" cy="575.4" r="2.9" fill="#0000ff"/>
<circle cx="1482.8" cy="604" r="6.9" fill="#eeee00"/>
<circle cx="1486.6" cy="618.4" r="7.8" fill="#eeee00"/>
<circle cx="1490" cy="632.9" r="3.9" fill="#eeee00"/>
<circle cx="1493" cy="647.5" r="8.8" fill="#0000ff"/>
<circle cx="1495.7" cy="662.2" r="7.8" fill="#eeee00"/>
<circle cx="1497.9" cy="676.9" r="6.9" fill="#eeee00"/>
<circle cx="1499.8" cy="691.7" r="11.8" fill="#eeee00"/>
<circle cx="1501.3" cy="706.6" r="9.8" fill="#0000ff"/>
<circle cx="1502.4" cy="721.4" r="10.8" fill="#0000ff"/>
<circle cx="1503.1" cy="736.3" r="11.8" fill="#0000ff"/>
<circle cx="1503.5" cy="751.2" r="8.8" fill="#0000ff"/>
<circle cx="1503.4" cy="766.1" r="4.9" fill="#eeee00"/>
<circle cx="1503" cy="781" r="6.9" fill="#eeee00"/>
<circle cx="1502.1" cy="795.9" r="8.8" fill="#0000ff"/>
<circle cx="1500.9" cy="810.8" r="9.8" fill="#eeee00"/>
<circle cx="1497.3" cy="840.3" r="2" fill="#9a9a20" stroke="none"/>
<circle cx="1380.3" cy="845.7" r="3.4" fill="#ff0000"/>
<circle cx="1492.5" cy="868" r="3.4" fill="#ff0000"/>
<circle cx="1368.5" cy="892.3" r="3.9" fill="#ff0000"/>
<circle cx="1477.7" cy="926.2" r="2.9" fill="#ff0000"/>
<circle cx="1358.7" cy="920.4" r="11.8" fill="#ff0000"/>
<circle cx="1468.1" cy="954.6" r="2.9" fill="#eeee00"/>
<circle cx="1462.9" cy="968.2" r="10.8" fill="#ff0000"/>
<circle cx="1344.8" cy="953" r="10.8" fill="#ff0000"/>
<circle cx="1451.7" cy="994.4" r="9.8" fill="#ff0000"/>
<circle cx="1444.4" cy="1009.7" r="5.9" fill="#eeee00"/>
<circle cx="1331" cy="979.6" r="6.9" fill="#eeee00"/>
<circle cx="1430.9" cy="1035.4" r="7.8" fill="#eeee00"/>
<circle cx="1318.8" cy="1000.2" r="8.8" fill="#0000ff"/>
<circle cx="1415.6" cy="1061.2" r="8.8" fill="#0000ff"/>
<circle cx="1302.7" cy="1024.1" r="8.8" fill="#0000ff"/>
<circle cx="1400.1" cy="1084.5" r="6.9" fill="#0000ff"/>
<circle cx="1390.8" cy="1097.5" r="8.8" fill="#0000ff"/>
<circle cx="1091.7" cy="919.9" r="12.7" fill="#ff0000"/>
<circle cx="1171.8" cy="1001.5" r="11.8" fill="#ff0000"/>
<circle cx="1251.9" cy="1083.2" r="11.8" fill="#ff0000"/>
<circle cx="1372.3" cy="1121" r="8.8" fill="#ff0000"/>
<circle cx="1362.6" cy="1132.4" r="6.9" fill="#eeee00"/>
<circle cx="1352.7" cy="1143.5" r="4.9" fill="#eeee00"/>
<circle cx="1342.5" cy="1154.3" r="2.9" fill="#eeee00"/>
<circle cx="1332" cy="1164.9" r="2" fill="#9a9a20" stroke="none"/>
<circle cx="1321.3" cy="1175.2" r="11.8" fill="#ff0000"/>
<circle cx="1310.2" cy="1185.2" r="5.9" fill="#eeee00"/>
<circle cx="1287.4" cy="1204.3" r="4.9" fill="#ff0000"/>
<circle cx="1012" cy="970.7" r="11.8" fill="#eeee00"/>
<circle cx="1092.9" cy="1059.4" r="11.8" fill="#eeee00"/>
<circle cx="1197.2" cy="1129" r="2.9" fill="#eeee00"/>
<circle cx="1263.7" cy="1222.2" r="2.9" fill="#eeee00"/>
<circle cx="1177.4" cy="1142.4" r="2.9" fill="#eeee00"/>
<circle cx="1238.8" cy="1238.9" r="2.9" fill="#eeee00"/>
<circle cx="1152.3" cy="1157.3" r="6.9" fill="#eeee00"/>
<circle cx="1214" cy="1253.8" r="2.9" fill="#eeee00"/>
<circle cx="1200.9" cy="1261.1" r="6.9" fill="#eeee00"/>
<circle cx="1120.2" cy="1173.4" r="8.3" fill="#0000ff"/>
<circle cx="1174.2" cy="1274.5" r="7.8" fill="#eeee00"/>
<circle cx="1160.5" cy="1280.6" r="8.8" fill="#eeee00"/>
<circle cx="1092.5" cy="1184.8" r="11.8" fill="#eeee00"/>
<circle cx="1132.8" cy="1291.9" r="11.8" fill="#eeee00"/>
<circle cx="1009.5" cy="1090.7" r="5.4" fill="#eeee00"/>
<circle cx="1064.2" cy="1194.4" r="4.9" fill="#eeee00"/>
<circle cx="1104.5" cy="1301.7" r="2.9" fill="#eeee00"/>
<circle cx="1090.2" cy="1306" r="4.9" fill="#eeee00"/>
<circle cx="954.3" cy="984.2" r="7.8" fill="#ff0000"/>
<circle cx="965.7" cy="1098" r="7.8" fill="#ff0000"/>
<circle cx="977.1" cy="1211.8" r="7.8" fill="#ff0000"/>
<circle cx="988.6" cy="1325.6" r="8.8" fill="#ff0000"/>
<circle cx="893.2" cy="864.3" r="12.7" fill="#ff0000"/>
<circle cx="854.9" cy="972.1" r="12.7" fill="#ff0000"/>
<circle cx="863.9" cy="1093" r="12.7" fill="#ff0000"/>
<circle cx="941.7" cy="1214" r="7.8" fill="#eeee00"/>
<circle cx="958.7" cy="1327.9" r="7.8" fill="#eeee00"/>
<circle cx="944.8" cy="1328.3" r="3.9" fill="#eeee00"/>
<circle cx="900.3" cy="1213" r="11.8" fill="#ff0000"/>
<circle cx="900" cy="1327.6" r="5.9" fill="#eeee00"/>
<circle cx="885.1" cy="1326.6" r="12.7" fill="#ff0000"/>
<circle cx="859.2" cy="1208.3" r="11.8" fill="#eeee00"/>
<circle cx="855.4" cy="1323.4" r="10.8" fill="#ff0000"/>
<circle cx="841.6" cy="1321.4" r="5.9" fill="#eeee00"/>
<circle cx="826.9" cy="1318.8" r="11.8" fill="#eeee00"/>
<circle cx="823.6" cy="1201.2" r="5.9" fill="#eeee00"/>
<circle cx="796.7" cy="1312.4" r="5.9" fill="#eeee00"/>
<circle cx="795.2" cy="1193.3" r="8.8" fill="#eeee00"/>
<circle cx="768.8" cy="1304.9" r="8.8" fill="#0000ff"/>
<circle cx="753.6" cy="1300.1" r="7.8" fill="#ff0000"/>
<circle cx="766.7" cy="1183.4" r="9.8" fill="#0000ff"/>
<circle cx="725.5" cy="1290.1" r="9.8" fill="#0000ff"/>
<circle cx="745.4" cy="1174.5" r="6.9" fill="#eeee00"/>
<circle cx="698.8" cy="1279" r="7.8" fill="#eeee00"/>
<circle cx="771.7" cy="1060.3" r="2.9" fill="#0000ff"/>
<circle cx="718.5" cy="1161.5" r="2.5" fill="#0000ff"/>
<circle cx="665.2" cy="1262.8" r="2.5" fill="#0000ff"/>
<circle cx="845.2" cy="831.6" r="10.8" fill="#ff0000"/>
<circle cx="758.9" cy="906.7" r="11.8" fill="#ff0000"/>
<circle cx="719.3" cy="1026.3" r="10.8" fill="#eeee00"/>
<circle cx="692.5" cy="1146.8" r="9.8" fill="#ff0000"/>
<circle cx="632.8" cy="1244.3" r="9.8" fill="#ff0000"/>
<circle cx="657.8" cy="1123.2" r="8.8" fill="#0000ff"/>
<circle cx="607.8" cy="1228.1" r="7.8" fill="#eeee00"/>
<circle cx="595.6" cy="1219.5" r="2.9" fill="#eeee00"/>
<circle cx="583.6" cy="1210.5" r="9.8" fill="#0000ff"/>
<circle cx="571.4" cy="1200.9" r="3.9" fill="#eeee00"/>
<circle cx="626.2" cy="1097.4" r="3.9" fill="#eeee00"/>
<circle cx="549.9" cy="1182.6" r="3.9" fill="#eeee00"/>
<circle cx="673.8" cy="983.1" r="2" fill="#9a9a20" stroke="none"/>
<circle cx="587.9" cy="1058.7" r="2" fill="#9a9a20" stroke="none"/>
<circle cx="502" cy="1134.2" r="2" fill="#9a9a20" stroke="none"/>
<circle cx="659.6" cy="965.9" r="11.8" fill="#ff0000"/>
<circle cx="568.9" cy="1035.6" r="11.8" fill="#ff0000"/>
<circle cx="478.3" cy="1105.4" r="11.8" fill="#ff0000"/>
<circle cx="634.9" cy="929.2" r="2.9" fill="#eeee00"/>
<circle cx="536.1" cy="986.8" r="3.9" fill="#eeee00"/>
<circle cx="437.2" cy="1044.4" r="3.9" fill="#eeee00"/>
<circle cx="817.5" cy="765.8" r="10.8" fill="#0000ff"/>
<circle cx="714.7" cy="829.8" r="6.9" fill="#eeee00"/>
<circle cx="620.5" cy="901.7" r="3.9" fill="#eeee00"/>
<circle cx="522.1" cy="960.9" r="4.9" fill="#eeee00"/>
<circle cx="419.7" cy="1012" r="3.9" fill="#eeee00"/>
<circle cx="512" cy="939.3" r="2" fill="#9a9a20" stroke="none"/>
<circle cx="407.1" cy="984.9" r="2" fill="#9a9a20" stroke="none"/>
<circle cx="607.1" cy="868.5" r="7.8" fill="#eeee00"/>
<circle cx="499" cy="905.9" r="8.8" fill="#eeee00"/>
<circle cx="395.9" cy="957.3" r="7.8" fill="#eeee00"/>
<circle cx="386.2" cy="929.1" r="2.9" fill="#eeee00"/>
<circle cx="596.2" cy="829.7" r="2.5" fill="#eeee00"/>
<circle cx="484.4" cy="854.1" r="3.4" fill="#eeee00"/>
<circle cx="378" cy="900.8" r="2.9" fill="#eeee00"/>
<circle cx="702.8" cy="762.4" r="5.4" fill="#eeee00"/>
<circle cx="589.1" cy="732.4" r="5.4" fill="#eeee00"/>
<circle cx="475" cy="724.4" r="5.4" fill="#eeee00"/>
<circle cx="360.9" cy="716.4" r="5.4" fill="#eeee00"/>
<circle cx="705.7" cy="719.5" r="10.8" fill="#0000ff"/>
<circle cx="592.8" cy="701" r="10.8" fill="#0000ff"/>
<circle cx="479.9" cy="682.5" r="10.8" fill="#0000ff"/>
<circle cx="363.8" cy="686.1" r="10.8" fill="#0000ff"/>
<circle cx="365.9" cy="671.3" r="8.8" fill="#ff0000"/>
<circle cx="368.3" cy="656.6" r="2.9" fill="#eeee00"/>
<circle cx="371.1" cy="641.9" r="7.8" fill="#0000ff"/>
<circle cx="823.5" cy="718.9" r="6.9" fill="#eeee00"/>
<circle cx="712.4" cy="690.6" r="2" fill="#9a9a20" stroke="none"/>
<circle cx="602.8" cy="657.6" r="2" fill="#9a9a20" stroke="none"/>
<circle cx="493.3" cy="624.7" r="2" fill="#9a9a20" stroke="none"/>
<circle cx="383.7" cy="591.7" r="2" fill="#9a9a20" stroke="none"/>
<circle cx="718.8" cy="672.2" r="6.9" fill="#eeee00"/>
<circle cx="612.5" cy="630" r="7.3" fill="#eeee00"/>
<circle cx="506.1" cy="587.8" r="7.8" fill="#eeee00"/>
<circle cx="399.8" cy="545.6" r="8.8" fill="#eeee00"/>
<circle cx="831.7" cy="700.7" r="5.4" fill="#eeee00"/>
<circle cx="731.8" cy="644.8" r="5.4" fill="#eeee00"/>
<circle cx="632" cy="589" r="5.9" fill="#eeee00"/>
<circle cx="532.1" cy="533.1" r="5.9" fill="#eeee00"/>
<circle cx="432.3" cy="477.3" r="5.9" fill="#eeee00"/>
<circle cx="849.1" cy="677.1" r="7.8" fill="#eeee00"/>
<circle cx="766.8" cy="597.7" r="8.8" fill="#eeee00"/>
<circle cx="676.9" cy="526.4" r="7.8" fill="#eeee00"/>
<circle cx="592" cy="449.7" r="7.8" fill="#eeee00"/>
<circle cx="507.1" cy="373" r="6.9" fill="#eeee00"/>
<circle cx="692.2" cy="510.4" r="6.9" fill="#eeee00"/>
<circle cx="612.5" cy="428.4" r="6.9" fill="#eeee00"/>
<circle cx="532.7" cy="346.4" r="6.9" fill="#eeee00"/>
<circle cx="862.2" cy="665.5" r="10.8" fill="#eeee00"/>
<circle cx="792.9" cy="574.5" r="12.7" fill="#eeee00"/>
<circle cx="732.2" cy="477.1" r="12.7" fill="#eeee00"/>
<circle cx="665.8" cy="384" r="13.7" fill="#eeee00"/>
<circle cx="599.3" cy="290.8" r="13.7" fill="#eeee00"/>
<circle cx="874.6" cy="657.2" r="8.8" fill="#eeee00"/>
<circle cx="817.8" cy="558" r="9.8" fill="#eeee00"/>
<circle cx="760.9" cy="458.7" r="9.8" fill="#eeee00"/>
<circle cx="704.1" cy="359.4" r="9.8" fill="#eeee00"/>
<circle cx="647.2" cy="260.1" r="9.8" fill="#eeee00"/>
<circle cx="888.1" cy="650.7" r="9.8" fill="#eeee00"/>
<circle cx="844.7" cy="544.8" r="10.8" fill="#eeee00"/>
<circle cx="801.3" cy="439" r="10.8" fill="#eeee00"/>
<circle cx="757.9" cy="333.1" r="10.8" fill="#eeee00"/>
<circle cx="714.5" cy="227.3" r="10.8" fill="#eeee00"/>
<circle cx="916.4" cy="643.1" r="9.8" fill="#0000ff"/>
<circle cx="901.3" cy="529.7" r="9.8" fill="#0000ff"/>
<circle cx="886.2" cy="416.3" r="9.8" fill="#0000ff"/>
<circle cx="871.2" cy="302.9" r="9.8" fill="#0000ff"/>
<circle cx="856.1" cy="189.5" r="9.8" fill="#0000ff"/>
</g>
<g font-size="29" fill="#1c1c24">
<text transform="translate(1045.9 831.7) rotate(33.3)" text-anchor="start" dy="10.2">a</text>
<text transform="translate(1170.8 679.9) rotate(-17.7)" text-anchor="start" dy="10.2">b</text>
<text transform="translate(1279.8 645.1) rotate(-17.7)" text-anchor="start" dy="10.2">c</text>
<text transform="translate(1085.3 301.7) rotate(-71.3)" text-anchor="start" dy="10.2">d</text>
<text transform="translate(947.5 162.2) rotate(-88.5)" text-anchor="start" dy="10.2">e</text>
<text transform="translate(993.7 165.3) rotate(-84)" text-anchor="start" dy="10.2">f</text>
<text transform="translate(1024.4 169.3) rotate(-81)" text-anchor="start" dy="10.2">g</text>
<text transform="translate(1039.7 171.9) rotate(-79.5)" text-anchor="start" dy="10.2">h</text>
<text transform="translate(1054.8 174.9) rotate(-78)" text-anchor="start" dy="10.2">i</text>
<text transform="translate(1129.2 195.9) rotate(-70.6)" text-anchor="start" dy="10.2">j</text>
<text transform="translate(1158.1 206.9) rotate(-67.6)" text-anchor="start" dy="10.2">k</text>
<text transform="translate(1186.4 219.4) rotate(-64.6)" text-anchor="start" dy="10.2">l</text>
<text transform="translate(1240.9 248.8) rotate(-58.6)" text-anchor="start" dy="10.2">m</text>
<text transform="translate(1254 257.1) rotate(-57.1)" text-anchor="start" dy="10.2">n</text>
<text transform="translate(1256.5 403.1) rotate(-47.4)" text-anchor="start" dy="10.2">o</text>
<text transform="translate(1306.6 456.9) rotate(-38.6)" text-anchor="start" dy="10.2">p</text>
<text transform="translate(1410 403.7) rotate(-36.4)" text-anchor="start" dy="10.2">q</text>
<text transform="translate(1400.3 652.8) rotate(-12.5)" text-anchor="start" dy="10.2">r</text>
<text transform="translate(1444.2 455.6) rotate(-30.4)" text-anchor="start" dy="10.2">s</text>
<text transform="translate(1451.9 469.1) rotate(-28.9)" text-anchor="start" dy="10.2">t</text>
<text transform="translate(1472.8 510.6) rotate(-24.4)" text-anchor="start" dy="10.2">u</text>
<text transform="translate(1479 524.8) rotate(-22.9)" text-anchor="start" dy="10.2">v</text>
<text transform="translate(1490.3 553.7) rotate(-19.9)" text-anchor="start" dy="10.2">w</text>
<text transform="translate(1495.4 568.3) rotate(-18.5)" text-anchor="start" dy="10.2">x</text>
<text transform="translate(1515.1 643.2) rotate(-11)" text-anchor="start" dy="10.2">y</text>
<text transform="translate(1523.7 704.6) rotate(-5)" text-anchor="start" dy="10.2">z</text>
<text transform="translate(1524.9 720) rotate(-3.5)" text-anchor="start" dy="10.2">a1</text>
<text transform="translate(1525.6 735.5) rotate(-2)" text-anchor="start" dy="10.2">b1</text>
<text transform="translate(1526 751) rotate(-0.5)" text-anchor="start" dy="10.2">c1</text>
<text transform="translate(1524.6 797.5) rotate(4)" text-anchor="start" dy="10.2">d1</text>
<text transform="translate(1402.4 850.1) rotate(11.2)" text-anchor="start" dy="10.2">e1</text>
<text transform="translate(1514.6 872.4) rotate(11.2)" text-anchor="start" dy="10.2">f1</text>
<text transform="translate(1390 898.9) rotate(17.3)" text-anchor="start" dy="10.2">g1</text>
<text transform="translate(1499.2 932.9) rotate(17.3)" text-anchor="start" dy="10.2">h1</text>
<text transform="translate(1379.7 928.5) rotate(21)" text-anchor="start" dy="10.2">i1</text>
<text transform="translate(1483.8 976.5) rotate(21.7)" text-anchor="start" dy="10.2">j1</text>
<text transform="translate(1365.1 962.6) rotate(25.4)" text-anchor="start" dy="10.2">k1</text>
<text transform="translate(1472.2 1003.7) rotate(24.6)" text-anchor="start" dy="10.2">l1</text>
<text transform="translate(1337.8 1012.2) rotate(32.2)" text-anchor="start" dy="10.2">m1</text>
<text transform="translate(1434.6 1073.2) rotate(32.2)" text-anchor="start" dy="10.2">n1</text>
<text transform="translate(1320.9 1037.3) rotate(35.8)" text-anchor="start" dy="10.2">o1</text>
<text transform="translate(1418.6 1097.4) rotate(35)" text-anchor="start" dy="10.2">p1</text>
<text transform="translate(1408.8 1110.9) rotate(36.6)" text-anchor="start" dy="10.2">q1</text>
<text transform="translate(1107.5 935.9) rotate(45.6)" text-anchor="start" dy="10.2">r1</text>
<text transform="translate(1187.6 1017.6) rotate(45.6)" text-anchor="start" dy="10.2">s1</text>
<text transform="translate(1267.7 1099.3) rotate(45.6)" text-anchor="start" dy="10.2">t1</text>
<text transform="translate(1389.6 1135.4) rotate(39.6)" text-anchor="start" dy="10.2">u1</text>
<text transform="translate(1336.6 1191.6) rotate(47)" text-anchor="start" dy="10.2">v1</text>
<text transform="translate(1301.4 1221.9) rotate(51.5)" text-anchor="start" dy="10.2">w1</text>
<text transform="translate(1129.5 1193.9) rotate(65.6)" text-anchor="start" dy="10.2">x1</text>
<text transform="translate(956.6 1006.5) rotate(84.3)" text-anchor="start" dy="10.2">y1</text>
<text transform="translate(968 1120.4) rotate(84.3)" text-anchor="start" dy="10.2">z1</text>
<text transform="translate(979.4 1234.2) rotate(84.3)" text-anchor="start" dy="10.2">a2</text>
<text transform="translate(990.8 1348) rotate(84.3)" text-anchor="start" dy="10.2">b2</text>
<text transform="translate(885.7 885.5) rotate(-70.4)" text-anchor="end" dy="10.2">c2</text>
<text transform="translate(847.4 993.3) rotate(-70.4)" text-anchor="end" dy="10.2">d2</text>
<text transform="translate(859.4 1115) rotate(-78.6)" text-anchor="end" dy="10.2">e2</text>
<text transform="translate(898.8 1235.5) rotate(-86.1)" text-anchor="end" dy="10.2">f2</text>
<text transform="translate(883.3 1349) rotate(-85.3)" text-anchor="end" dy="10.2">g2</text>
<text transform="translate(852.4 1345.7) rotate(-82.4)" text-anchor="end" dy="10.2">h2</text>
<text transform="translate(762.4 1326.4) rotate(-73.5)" text-anchor="end" dy="10.2">i2</text>
<text transform="translate(746.6 1321.5) rotate(-71.9)" text-anchor="end" dy="10.2">j2</text>
<text transform="translate(758.6 1204.4) rotate(-68.9)" text-anchor="end" dy="10.2">k2</text>
<text transform="translate(717.4 1311.1) rotate(-68.9)" text-anchor="end" dy="10.2">l2</text>
<text transform="translate(761.3 1080.2) rotate(-62.3)" text-anchor="end" dy="10.2">m2</text>
<text transform="translate(708 1181.4) rotate(-62.3)" text-anchor="end" dy="10.2">n2</text>
<text transform="translate(654.8 1282.7) rotate(-62.3)" text-anchor="end" dy="10.2">o2</text>
<text transform="translate(828.2 846.3) rotate(-41)" text-anchor="end" dy="10.2">p2</text>
<text transform="translate(741.9 921.4) rotate(-41)" text-anchor="end" dy="10.2">q2</text>
<text transform="translate(680.8 1165.9) rotate(-58.5)" text-anchor="end" dy="10.2">r2</text>
<text transform="translate(621.1 1263.5) rotate(-58.5)" text-anchor="end" dy="10.2">s2</text>
<text transform="translate(644.3 1141.2) rotate(-53.3)" text-anchor="end" dy="10.2">t2</text>
<text transform="translate(569.9 1228.4) rotate(-52.5)" text-anchor="end" dy="10.2">u2</text>
<text transform="translate(641.7 979.6) rotate(-37.6)" text-anchor="end" dy="10.2">v2</text>
<text transform="translate(551.1 1049.4) rotate(-37.6)" text-anchor="end" dy="10.2">w2</text>
<text transform="translate(460.4 1119.2) rotate(-37.6)" text-anchor="end" dy="10.2">x2</text>
<text transform="translate(795.1 767.7) rotate(-4.7)" text-anchor="end" dy="10.2">y2</text>
<text transform="translate(683.5 715.8) rotate(9.3)" text-anchor="end" dy="10.2">z2</text>
<text transform="translate(570.6 697.3) rotate(9.3)" text-anchor="end" dy="10.2">a3</text>
<text transform="translate(457.7 678.8) rotate(9.3)" text-anchor="end" dy="10.2">b3</text>
<text transform="translate(341.5 683.4) rotate(7.1)" text-anchor="end" dy="10.2">c3</text>
<text transform="translate(343.6 668) rotate(8.6)" text-anchor="end" dy="10.2">d3</text>
<text transform="translate(349 637.4) rotate(11.6)" text-anchor="end" dy="10.2">e3</text>
<text transform="translate(913.4 620.8) rotate(82.4)" text-anchor="end" dy="10.2">f3</text>
<text transform="translate(898.4 507.4) rotate(82.4)" text-anchor="end" dy="10.2">g3</text>
<text transform="translate(883.3 394) rotate(82.4)" text-anchor="end" dy="10.2">h3</text>
<text transform="translate(868.2 280.6) rotate(82.4)" text-anchor="end" dy="10.2">i3</text>
<text transform="translate(853.1 167.2) rotate(82.4)" text-anchor="end" dy="10.2">j3</text>
</g>
</g>
<g id="clad-bottom">
<g stroke="none">
<path d="M912.8 2650.9A114.7 114.7 0 0 1 850.5 2629L482.4 3134.5A740 740 0 0 0 884.3 3275.5Z" fill="#ff0000" fill-opacity="0.05"/>
<path d="M912.8 2650.9A114.7 114.7 0 0 1 850.5 2629L482.4 3134.5A740 740 0 0 0 884.3 3275.5Z" fill="#ff0000" fill-opacity="0.33" style="mix-blend-mode:lighten"/>
<path d="M817.9 2592.3A114.7 114.7 0 0 1 810.4 2496.4L224.1 2279.1A740 740 0 0 0 272.2 2897.5Z" fill="#0000ff" fill-opacity="0.05"/>
<path d="M896.5 2423.6A114.7 114.7 0 0 1 909.3 2421.9L861.6 1798.5A740 740 0 0 0 779.6 1809.4Z" fill="#0000ff" fill-opacity="0.05"/>
<path d="M908.2 2765.2A229.1 229.1 0 0 1 781.8 2720.5L494.3 3109.7A713 713 0 0 0 887.4 3248.6Z" fill="#ff0000" fill-opacity="0.10"/>
<path d="M908.2 2765.2A229.1 229.1 0 0 1 781.8 2720.5L494.3 3109.7A713 713 0 0 0 887.4 3248.6Z" fill="#ff0000" fill-opacity="0.33" style="mix-blend-mode:lighten"/>
<path d="M689.6 2518.8A229.1 229.1 0 0 1 695.6 2481.5L225.7 2365.6A713 713 0 0 0 207.1 2481.9Z" fill="#0000ff" fill-opacity="0.10"/>
<path d="M877.1 2310.9A229.1 229.1 0 0 1 898.5 2308L857.4 1825.9A713 713 0 0 0 790.7 1834.7Z" fill="#0000ff" fill-opacity="0.10"/>
<path d="M942.1 2879A343.5 343.5 0 0 1 771.2 2846.9L624 3158.3A688 688 0 0 0 966.3 3222.6Z" fill="#ff0000" fill-opacity="0.15"/>
<path d="M942.1 2879A343.5 343.5 0 0 1 771.2 2846.9L624 3158.3A688 688 0 0 0 966.3 3222.6Z" fill="#ff0000" fill-opacity="0.33" style="mix-blend-mode:lighten"/>
<path d="M751 2836.5A343.5 343.5 0 0 1 666.7 2770.4L414.6 3005.3A688 688 0 0 0 583.5 3137.5Z" fill="#0000ff" fill-opacity="0.15"/>
<path d="M575.6 2508.3A343.5 343.5 0 0 1 584.2 2455.2L249.4 2373.9A688 688 0 0 0 232.3 2480.3Z" fill="#0000ff" fill-opacity="0.15"/>
<path d="M769.9 2846.2A343.5 343.5 0 0 1 746.6 2834L574.7 3132.5A688 688 0 0 0 621.3 3157Z" fill="#0000ff" fill-opacity="0.15"/>
<path d="M654 2756.1A343.5 343.5 0 0 1 638 2735.3L357.2 2934.8A688 688 0 0 0 389.3 2976.5Z" fill="#ff0000" fill-opacity="0.15"/>
<path d="M654 2756.1A343.5 343.5 0 0 1 638 2735.3L357.2 2934.8A688 688 0 0 0 389.3 2976.5Z" fill="#ff0000" fill-opacity="0.33" style="mix-blend-mode:lighten"/>
<path d="M859.6 2197.8A343.5 343.5 0 0 1 885.8 2194.3L853.6 1851.3A688 688 0 0 0 801.1 1858.3Z" fill="#0000ff" fill-opacity="0.15"/>
<path d="M1253.8 2225A457.9 457.9 0 0 1 1295.8 2277.6L1464.2 2162.3A662 662 0 0 0 1403.5 2086.3Z" fill="#0000ff" fill-opacity="0.20"/>
<path d="M1276.8 2251.8A457.9 457.9 0 0 1 1364 2640.1L1562.8 2686.3A662 662 0 0 0 1436.7 2125Z" fill="#0000ff" fill-opacity="0.20"/>
<path d="M1369.4 2613A457.9 457.9 0 0 1 1364.3 2638.9L1563.2 2684.6A662 662 0 0 0 1570.7 2647.2Z" fill="#ff0000" fill-opacity="0.20"/>
<path d="M1369.4 2613A457.9 457.9 0 0 1 1364.3 2638.9L1563.2 2684.6A662 662 0 0 0 1570.7 2647.2Z" fill="#ff0000" fill-opacity="0.33" style="mix-blend-mode:lighten"/>
<path d="M1312.6 2768.6A457.9 457.9 0 0 1 1298.1 2791.6L1467.6 2905.4A662 662 0 0 0 1488.5 2872.1Z" fill="#0000ff" fill-opacity="0.20"/>
<path d="M1300.6 2787.9A457.9 457.9 0 0 1 1276.6 2821L1436.5 2947.9A662 662 0 0 0 1471.1 2900.1Z" fill="#0000ff" fill-opacity="0.20"/>
<path d="M1123.8 2945.4A457.9 457.9 0 0 1 1084.4 2962.9L1158.5 3153.1A662 662 0 0 0 1215.5 3127.7Z" fill="#0000ff" fill-opacity="0.20"/>
<path d="M955.7 2992.6A457.9 457.9 0 0 1 901.5 2993.9L894.2 3197.9A662 662 0 0 0 972.6 3196Z" fill="#ff0000" fill-opacity="0.20"/>
<path d="M955.7 2992.6A457.9 457.9 0 0 1 901.5 2993.9L894.2 3197.9A662 662 0 0 0 972.6 3196Z" fill="#ff0000" fill-opacity="0.33" style="mix-blend-mode:lighten"/>
<path d="M907.5 2994.1A457.9 457.9 0 0 1 867 2991.3L844.2 3194.2A662 662 0 0 0 902.8 3198.1Z" fill="#ff0000" fill-opacity="0.20"/>
<path d="M907.5 2994.1A457.9 457.9 0 0 1 867 2991.3L844.2 3194.2A662 662 0 0 0 902.8 3198.1Z" fill="#ff0000" fill-opacity="0.33" style="mix-blend-mode:lighten"/>
<path d="M800.4 2978.8A457.9 457.9 0 0 1 761.7 2966.7L692 3158.5A662 662 0 0 0 748 3176.1Z" fill="#0000ff" fill-opacity="0.20"/>
<path d="M672.5 2922.8A457.9 457.9 0 0 1 618.2 2882.4L484.6 3036.7A662 662 0 0 0 563 3095.1Z" fill="#0000ff" fill-opacity="0.20"/>
<path d="M461.9 2495.8A457.9 457.9 0 0 1 472.8 2429L274.4 2381.2A662 662 0 0 0 258.6 2477.8Z" fill="#0000ff" fill-opacity="0.20"/>
<path d="M716.9 2947.7A457.9 457.9 0 0 1 693 2935.1L592.7 3112.8A662 662 0 0 0 627.3 3131.1Z" fill="#0000ff" fill-opacity="0.20"/>
<path d="M563.6 2826.2A457.9 457.9 0 0 1 547.1 2804.8L381.7 2924.4A662 662 0 0 0 405.6 2955.5Z" fill="#ff0000" fill-opacity="0.20"/>
<path d="M563.6 2826.2A457.9 457.9 0 0 1 547.1 2804.8L381.7 2924.4A662 662 0 0 0 405.6 2955.5Z" fill="#ff0000" fill-opacity="0.33" style="mix-blend-mode:lighten"/>
<path d="M844.2 2084.4A457.9 457.9 0 0 1 871.1 2080.8L850.2 1877.8A662 662 0 0 0 811.2 1883Z" fill="#0000ff" fill-opacity="0.20"/>
<path d="M921.4 1964A572.3 572.3 0 0 1 945.4 1964.7L948.6 1898A639 639 0 0 0 921.8 1897.3Z" fill="#ff0000" fill-opacity="0.25"/>
<path d="M921.4 1964A572.3 572.3 0 0 1 945.4 1964.7L948.6 1898A639 639 0 0 0 921.8 1897.3Z" fill="#ff0000" fill-opacity="0.33" style="mix-blend-mode:lighten"/>
<path d="M966 1966A572.3 572.3 0 0 1 989.9 1968.5L998.2 1902.4A639 639 0 0 0 971.6 1899.5Z" fill="#0000ff" fill-opacity="0.25"/>
<path d="M995.6 1969.3A572.3 572.3 0 0 1 1019.3 1973L1031.1 1907.4A639 639 0 0 0 1004.6 1903.2Z" fill="#0000ff" fill-opacity="0.25"/>
<path d="M1039.5 1977.1A572.3 572.3 0 0 1 1062.9 1982.6L1079.8 1918.1A639 639 0 0 0 1053.7 1911.9Z" fill="#ff0000" fill-opacity="0.25"/>
<path d="M1039.5 1977.1A572.3 572.3 0 0 1 1062.9 1982.6L1079.8 1918.1A639 639 0 0 0 1053.7 1911.9Z" fill="#ff0000" fill-opacity="0.33" style="mix-blend-mode:lighten"/>
<path d="M1054 1980.4A572.3 572.3 0 0 1 1077.3 1986.6L1095.8 1922.5A639 639 0 0 0 1069.9 1915.6Z" fill="#ff0000" fill-opacity="0.25"/>
<path d="M1054 1980.4A572.3 572.3 0 0 1 1077.3 1986.6L1095.8 1922.5A639 639 0 0 0 1069.9 1915.6Z" fill="#ff0000" fill-opacity="0.33" style="mix-blend-mode:lighten"/>
<path d="M1097 1992.7A572.3 572.3 0 0 1 1119.7 2000.7L1143.2 1938.3A639 639 0 0 0 1117.8 1929.4Z" fill="#ff0000" fill-opacity="0.25"/>
<path d="M1097 1992.7A572.3 572.3 0 0 1 1119.7 2000.7L1143.2 1938.3A639 639 0 0 0 1117.8 1929.4Z" fill="#ff0000" fill-opacity="0.33" style="mix-blend-mode:lighten"/>
<path d="M1205.5 2041.5A572.3 572.3 0 0 1 1226 2054L1261.9 1997.8A639 639 0 0 0 1239 1983.8Z" fill="#0000ff" fill-opacity="0.25"/>
<path d="M1218.3 2049.1A572.3 572.3 0 0 1 1238.5 2062.2L1275.8 2006.9A639 639 0 0 0 1253.3 1992.3Z" fill="#0000ff" fill-opacity="0.25"/>
<path d="M1413 2249.1A572.3 572.3 0 0 1 1424.7 2270.2L1483.7 2239.2A639 639 0 0 0 1470.7 2215.7Z" fill="#0000ff" fill-opacity="0.25"/>
<path d="M1434 2288.7A572.3 572.3 0 0 1 1443.9 2310.6L1505.2 2284.3A639 639 0 0 0 1494.1 2259.9Z" fill="#0000ff" fill-opacity="0.25"/>
<path d="M1446.2 2315.9A572.3 572.3 0 0 1 1455 2338.3L1517.6 2315.3A639 639 0 0 0 1507.7 2290.3Z" fill="#ff0000" fill-opacity="0.25"/>
<path d="M1446.2 2315.9A572.3 572.3 0 0 1 1455 2338.3L1517.6 2315.3A639 639 0 0 0 1507.7 2290.3Z" fill="#ff0000" fill-opacity="0.33" style="mix-blend-mode:lighten"/>
<path d="M1451.7 2329.8A572.3 572.3 0 0 1 1459.9 2352.4L1523.1 2331A639 639 0 0 0 1514 2305.7Z" fill="#0000ff" fill-opacity="0.25"/>
<path d="M1456.9 2343.8A572.3 572.3 0 0 1 1464.6 2366.6L1528.3 2346.8A639 639 0 0 0 1519.8 2321.3Z" fill="#0000ff" fill-opacity="0.25"/>
<path d="M1477.4 2415.5A572.3 572.3 0 0 1 1482 2439.1L1547.7 2427.8A639 639 0 0 0 1542.6 2401.4Z" fill="#0000ff" fill-opacity="0.25"/>
<path d="M1486.9 2474.4A572.3 572.3 0 0 1 1489 2498.3L1555.6 2493.9A639 639 0 0 0 1553.2 2467.1Z" fill="#0000ff" fill-opacity="0.25"/>
<path d="M1488.4 2489.2A572.3 572.3 0 0 1 1489.8 2513.2L1556.5 2510.5A639 639 0 0 0 1554.8 2483.7Z" fill="#0000ff" fill-opacity="0.25"/>
<path d="M1489.4 2504.1A572.3 572.3 0 0 1 1490.2 2528.1L1556.9 2527.2A639 639 0 0 0 1556 2500.3Z" fill="#0000ff" fill-opacity="0.25"/>
<path d="M1489.6 2563.7A572.3 572.3 0 0 1 1488 2587.7L1554.4 2593.7A639 639 0 0 0 1556.3 2566.9Z" fill="#0000ff" fill-opacity="0.25"/>
<path d="M1488.7 2578.6A572.3 572.3 0 0 1 1486.5 2602.5L1552.7 2610.3A639 639 0 0 0 1555.3 2583.5Z" fill="#0000ff" fill-opacity="0.25"/>
<path d="M1487.4 2593.5A572.3 572.3 0 0 1 1484.5 2617.3L1550.6 2626.8A639 639 0 0 0 1553.8 2600.1Z" fill="#ff0000" fill-opacity="0.25"/>
<path d="M1487.4 2593.5A572.3 572.3 0 0 1 1484.5 2617.3L1550.6 2626.8A639 639 0 0 0 1553.8 2600.1Z" fill="#ff0000" fill-opacity="0.33" style="mix-blend-mode:lighten"/>
<path d="M1481.5 2636.1A572.3 572.3 0 0 1 1476.8 2659.7L1542 2674A639 639 0 0 0 1547.2 2647.7Z" fill="#ff0000" fill-opacity="0.25"/>
<path d="M1481.5 2636.1A572.3 572.3 0 0 1 1476.8 2659.7L1542 2674A639 639 0 0 0 1547.2 2647.7Z" fill="#ff0000" fill-opacity="0.33" style="mix-blend-mode:lighten"/>
<path d="M1443.3 2763.3A572.3 572.3 0 0 1 1433.4 2785.2L1493.4 2814.2A639 639 0 0 0 1504.6 2789.8Z" fill="#ff0000" fill-opacity="0.25"/>
<path d="M1443.3 2763.3A572.3 572.3 0 0 1 1433.4 2785.2L1493.4 2814.2A639 639 0 0 0 1504.6 2789.8Z" fill="#ff0000" fill-opacity="0.33" style="mix-blend-mode:lighten"/>
<path d="M1408.6 2830.9A572.3 572.3 0 0 1 1395.9 2851.2L1451.6 2887.9A639 639 0 0 0 1465.8 2865.2Z" fill="#0000ff" fill-opacity="0.25"/>
<path d="M1393.6 2854.6A572.3 572.3 0 0 1 1379.9 2874.2L1433.7 2913.6A639 639 0 0 0 1449.1 2891.6Z" fill="#0000ff" fill-opacity="0.25"/>
<path d="M1366.6 2891.7A572.3 572.3 0 0 1 1351.3 2910.2L1401.8 2953.8A639 639 0 0 0 1418.8 2933.1Z" fill="#ff0000" fill-opacity="0.25"/>
<path d="M1366.6 2891.7A572.3 572.3 0 0 1 1351.3 2910.2L1401.8 2953.8A639 639 0 0 0 1418.8 2933.1Z" fill="#ff0000" fill-opacity="0.33" style="mix-blend-mode:lighten"/>
<path d="M1158.1 3055.8A572.3 572.3 0 0 1 1136.1 3065.4L1161.6 3127.1A639 639 0 0 0 1186.1 3116.4Z" fill="#0000ff" fill-opacity="0.25"/>
<path d="M957.2 3107.3A572.3 572.3 0 0 1 933.3 3108.4L935.1 3175.1A639 639 0 0 0 961.8 3173.8Z" fill="#ff0000" fill-opacity="0.25"/>
<path d="M957.2 3107.3A572.3 572.3 0 0 1 933.3 3108.4L935.1 3175.1A639 639 0 0 0 961.8 3173.8Z" fill="#ff0000" fill-opacity="0.33" style="mix-blend-mode:lighten"/>
<path d="M943.3 3108A572.3 572.3 0 0 1 919.4 3108.6L919.5 3175.3A639 639 0 0 0 946.2 3174.7Z" fill="#ff0000" fill-opacity="0.25"/>
<path d="M943.3 3108A572.3 572.3 0 0 1 919.4 3108.6L919.5 3175.3A639 639 0 0 0 946.2 3174.7Z" fill="#ff0000" fill-opacity="0.33" style="mix-blend-mode:lighten"/>
<path d="M898.4 3108.3A572.3 572.3 0 0 1 874.5 3106.9L869.5 3173.5A639 639 0 0 0 896.1 3174.9Z" fill="#ff0000" fill-opacity="0.25"/>
<path d="M898.4 3108.3A572.3 572.3 0 0 1 874.5 3106.9L869.5 3173.5A639 639 0 0 0 896.1 3174.9Z" fill="#ff0000" fill-opacity="0.33" style="mix-blend-mode:lighten"/>
<path d="M883.5 3107.6A572.3 572.3 0 0 1 859.7 3105.6L852.9 3172A639 639 0 0 0 879.5 3174.1Z" fill="#ff0000" fill-opacity="0.25"/>
<path d="M883.5 3107.6A572.3 572.3 0 0 1 859.7 3105.6L852.9 3172A639 639 0 0 0 879.5 3174.1Z" fill="#ff0000" fill-opacity="0.33" style="mix-blend-mode:lighten"/>
<path d="M853.7 3105A572.3 572.3 0 0 1 830 3101.8L819.8 3167.7A639 639 0 0 0 846.2 3171.3Z" fill="#0000ff" fill-opacity="0.25"/>
<path d="M766.7 3088.2A572.3 572.3 0 0 1 743.8 3081.4L723.5 3145A639 639 0 0 0 749.1 3152.6Z" fill="#0000ff" fill-opacity="0.25"/>
<path d="M662.2 3048.3A572.3 572.3 0 0 1 641.1 3037.1L608.8 3095.5A639 639 0 0 0 632.4 3107.9Z" fill="#0000ff" fill-opacity="0.25"/>
<path d="M579.5 2997.7A572.3 572.3 0 0 1 560.5 2983.2L518.8 3035.3A639 639 0 0 0 540 3051.5Z" fill="#0000ff" fill-opacity="0.25"/>
<path d="M471.9 2894.8A572.3 572.3 0 0 1 457.3 2875.9L403.6 2915.5A639 639 0 0 0 419.9 2936.6Z" fill="#ff0000" fill-opacity="0.25"/>
<path d="M471.9 2894.8A572.3 572.3 0 0 1 457.3 2875.9L403.6 2915.5A639 639 0 0 0 419.9 2936.6Z" fill="#ff0000" fill-opacity="0.33" style="mix-blend-mode:lighten"/>
<path d="M348.7 2477.8A572.3 572.3 0 0 1 351.6 2454.1L285.6 2444.5A639 639 0 0 0 282.3 2471Z" fill="#0000ff" fill-opacity="0.25"/>
<path d="M355 2433.4A572.3 572.3 0 0 1 359.8 2410L294.8 2395.3A639 639 0 0 0 289.4 2421.4Z" fill="#0000ff" fill-opacity="0.25"/>
<path d="M830.7 1970.7A572.3 572.3 0 0 1 854.5 1967.5L847 1901.3A639 639 0 0 0 820.5 1904.8Z" fill="#0000ff" fill-opacity="0.25"/>
</g>
<path d="M918 2536.3L1013.6 2599.2M1027 2501.4A114.4 114.4 0 0 1 929.4 2650.1M1027 2501.4L1135.9 2466.6M1135.9 2466.6L1244.9 2431.7M1027.9 2211.2A343.2 343.2 0 0 1 1196.4 2737M1027.9 2211.2L1064.6 2102.8M930.3 2078.9A457.6 457.6 0 0 1 1185.9 2165.3M930.3 2078.9L933.4 1964.5M942.2 2079.3L948.2 1965.1M954.1 2080.1L963.1 1966.1M965.9 2081.2L977.9 1967.4M977.7 2082.6L992.7 1969.2M989.5 2084.3L1007.4 1971.3M1001.3 2086.3L1022.1 1973.8M1012.9 2088.7L1036.7 1976.7M1024.5 2091.3L1051.2 1980M1036.1 2094.2L1065.6 1983.7M1047.5 2097.4L1079.9 1987.7M1058.9 2100.9L1094.2 1992.1M1070.2 2104.8L1108.3 1996.9M1081.4 2108.9L1122.2 2002M1092.5 2113.3L1136.1 2007.5M1103.4 2117.9L1149.8 2013.4M1114.2 2122.9L1163.3 2019.6M1124.9 2128.2L1176.7 2026.1M1135.5 2133.7L1189.9 2033M1145.9 2139.5L1202.9 2040.3M1156.1 2145.5L1215.7 2047.9M1166.2 2151.9L1228.3 2055.8M1176.2 2158.5L1240.7 2064M1185.9 2165.3L1252.9 2072.6M1150.3 2283.7L1227.8 2199.5M1205 2179.9A457.6 457.6 0 0 1 1249.2 2220.6M1205 2179.9L1276.8 2090.8M1214.3 2187.6L1288.3 2100.4M1223.3 2195.5L1299.7 2110.3M1232.2 2203.6L1310.7 2120.4M1240.8 2212L1321.5 2130.9M1249.2 2220.6L1332 2141.6M1186.2 2322.1L1275.6 2250.7M1264.3 2237.2A457.6 457.6 0 0 1 1286.3 2264.7M1264.3 2237.2L1350.9 2162.4M1271.9 2246.2L1360.3 2173.6M1279.2 2255.4L1369.5 2185.1M1286.3 2264.7L1378.4 2196.8M1253.1 2462.1L1364.8 2437.4M1300.1 2284.4A457.6 457.6 0 0 1 1370.7 2603.4M1300.1 2284.4L1395.6 2221.5M1306.5 2294.5L1403.6 2234M1312.7 2304.7L1411.3 2246.8M1318.6 2315.1L1418.7 2259.8M1324.2 2325.6L1425.7 2272.9M1329.6 2336.3L1432.4 2286.2M1334.6 2347L1438.8 2299.7M1339.4 2358L1444.8 2313.4M1343.9 2369L1450.4 2327.2M1348.1 2380.2L1455.7 2341.2M1352.1 2391.5L1460.6 2355.2M1355.7 2402.8L1465.1 2369.5M1359 2414.3L1469.3 2383.8M1362.1 2425.8L1473.1 2398.2M1364.8 2437.4L1476.5 2412.7M1367.2 2449.1L1479.5 2427.3M1369.3 2460.9L1482.2 2442M1371.2 2472.6L1484.4 2456.7M1372.7 2484.5L1486.3 2471.5M1373.9 2496.3L1487.8 2486.4M1374.7 2508.2L1488.9 2501.2M1375.3 2520.2L1489.6 2516.1M1375.6 2532.1L1490 2531M1375.5 2544L1489.9 2545.9M1375.2 2555.9L1489.5 2560.8M1374.5 2567.8L1488.6 2575.7M1373.5 2579.7L1487.4 2590.6M1372.3 2591.6L1485.8 2605.4M1370.7 2603.4L1483.8 2620.1M1254.6 2603.2L1366.8 2625.5M1366.8 2625.5L1479 2647.8M1250.6 2620.8L1361.5 2648.9M1361.5 2648.9L1472.4 2677.1M1245.7 2638.1L1355 2672.1M1355 2672.1L1464.2 2706M1238.4 2659.2L1345.2 2700.2M1347.3 2694.8A457.6 457.6 0 0 1 1343.1 2705.6M1347.3 2694.8L1454.6 2734.4M1343.1 2705.6L1449.4 2748M1228 2683.6L1331.3 2732.8M1334.2 2726.6A457.6 457.6 0 0 1 1328.3 2738.9M1334.2 2726.6L1438.2 2774.2M1328.3 2738.9L1430.9 2789.5M1217.6 2703.6L1317.5 2759.4M1317.5 2759.4L1417.4 2815.2M1208.5 2719.1L1305.3 2780M1305.3 2780L1402.1 2841M1196.4 2737L1289.2 2803.9M1292.9 2798.7A457.6 457.6 0 0 1 1285.4 2809.1M1292.9 2798.7L1386.6 2864.3M1285.4 2809.1L1377.3 2877.3M998.1 2618L1078.2 2699.7M1078.2 2699.7L1158.3 2781.3M1158.3 2781.3L1238.4 2863M1270.6 2827.9A457.6 457.6 0 0 1 1202.7 2894.5M1270.6 2827.9L1358.8 2900.8M1262.9 2837L1349.1 2912.2M1255 2845.9L1339.2 2923.3M1246.8 2854.6L1329 2934.1M1238.4 2863L1318.5 2944.7M1229.8 2871.2L1307.8 2955M1221 2879.2L1296.7 2965M1212 2887L1285.5 2974.7M1202.7 2894.5L1273.9 2984.1M958.2 2643.4L998.5 2750.5M1025.6 2738.2A228.8 228.8 0 0 1 970 2759.1M1025.6 2738.2L1079.4 2839.2M1117.3 2815.7A343.2 343.2 0 0 1 1038.8 2857.5M1117.3 2815.7L1183.7 2908.8M1183.7 2908.8L1250.2 3002M1102.4 2825.8L1163.9 2922.2M1163.9 2922.2L1225.3 3018.7M1083.6 2836.9L1138.8 2937.1M1144 2934.2A457.6 457.6 0 0 1 1133.5 2940M1144 2934.2L1200.5 3033.6M1133.5 2940L1187.4 3040.9M1059.5 2849L1106.7 2953.2M1112.1 2950.7A457.6 457.6 0 0 1 1101.2 2955.6M1112.1 2950.7L1160.7 3054.3M1101.2 2955.6L1147 3060.4M1038.8 2857.5L1079 2964.6M1079 2964.6L1119.3 3071.7M970 2759.1L996 2870.5M1017.5 2864.7A343.2 343.2 0 0 1 974.2 2874.9M1017.5 2864.7L1050.7 2974.2M1056.4 2972.5A457.6 457.6 0 0 1 1045 2975.9M1056.4 2972.5L1091 3081.5M1045 2975.9L1076.7 3085.8M995.9 2870.5L1021.8 2982M1021.8 2982L1047.8 3093.4M974.2 2874.9L992.9 2987.7M999.2 2986.6A457.6 457.6 0 0 1 986.6 2988.7M999.2 2986.6L1019.5 3099.2M986.6 2988.7L1003.7 3101.8M929.4 2650.1L940.8 2764M940.8 2764L952.2 2877.8M952.2 2877.8L963.6 2991.6M963.6 2991.6L975.1 3105.4M918 2536.3L879.7 2644.1M879.7 2644.1L841.4 2751.9M872.9 2760.6A228.8 228.8 0 0 1 811.5 2738.8M872.9 2760.6L850.4 2872.8M925.7 2879.4A343.2 343.2 0 0 1 778.4 2849.8M925.7 2879.4L928.2 2993.8M939.8 2993.4A457.6 457.6 0 0 1 916.7 2993.9M939.8 2993.4L945.2 3107.7M928.6 2993.8L931.3 3108.1M916.7 2993.9L916.4 3108.3M894.6 2878.7L886.8 2992.8M892.8 2993.2A457.6 457.6 0 0 1 880.9 2992.4M892.8 2993.2L886.5 3107.4M880.9 2992.4L871.6 3106.4M863.8 2875.2L845.7 2988.1M857.1 2989.8A457.6 457.6 0 0 1 834.3 2986.2M857.1 2989.8L841.9 3103.2M846.1 2988.2L828.1 3101.2M834.3 2986.2L813.4 3098.6M837.1 2869.8L810.1 2981M810.1 2981L783.2 3092.2M815.8 2863.9L781.7 2973.1M787.8 2975A457.6 457.6 0 0 1 775.7 2971.2M787.8 2975L755.3 3084.7M775.7 2971.2L740.1 3079.9M794.4 2856.5L753.2 2963.2M753.2 2963.2L712 3069.9M778.4 2849.8L731.9 2954.3M731.9 2954.3L685.3 3058.8M811.5 2738.8L758.2 2840.1M758.2 2840.1L705 2941.3M705 2941.3L651.7 3042.6M918 2536.3L831.7 2611.4M831.7 2611.4L745.4 2686.5M776.6 2716.1A228.8 228.8 0 0 1 720.3 2651.4M776.6 2716.1L705.8 2806.1M738.8 2829A343.2 343.2 0 0 1 675.8 2779.5M738.8 2829L679 2926.6M679 2926.6L619.3 3024.1M712.7 2811.3L644.3 2903M659 2913.6A457.6 457.6 0 0 1 629.9 2891.8M659 2913.6L594.3 3007.9M649.3 2906.7L582.1 2999.3M639.7 2899.5L570.1 2990.3M629.9 2891.8L557.9 2980.7M689 2792L612.7 2877.2M612.7 2877.2L536.4 2962.4M675.8 2779.5L595.1 2860.5M595.1 2860.5L514.3 2941.6M746.2 2687.4L660.3 2762.9M660.3 2762.9L574.4 2838.5M574.4 2838.5L488.5 2914M736.7 2675.9L646.1 2745.7M646.1 2745.7L555.4 2815.4M555.4 2815.4L464.8 2885.2M728 2663.8L633 2727.5M633 2727.5L538 2791.2M538 2791.2L443 2854.9M720.3 2651.4L621.4 2709M621.4 2709L522.6 2766.6M522.6 2766.6L423.7 2824.2M918 2536.3L804 2545.6M809.6 2572.9A114.4 114.4 0 0 1 805.1 2517.8M809.6 2572.9L701.2 2609.6M710.7 2633.1A228.8 228.8 0 0 1 694.5 2585.1M710.7 2633.1L607 2681.5M610.9 2689.6A343.2 343.2 0 0 1 603.4 2673.4M610.9 2689.6L508.6 2740.7M508.6 2740.7L406.2 2791.8M603.4 2673.4L498.5 2719.1M498.5 2719.1L393.6 2764.7M701.7 2611L593.6 2648.3M593.6 2648.3L485.5 2685.7M489.5 2696.9A457.6 457.6 0 0 1 481.7 2674.4M489.5 2696.9L382.4 2737.1M485.3 2685.1L377.1 2722.3M481.7 2674.4L372.7 2708.9M694.5 2585.1L582.7 2609.5M582.7 2609.5L470.9 2633.9M475.2 2651.7A457.6 457.6 0 0 1 467.4 2615.9M475.2 2651.7L364.5 2680.6M472.4 2640.6L361.1 2666.7M469.6 2627.7L357.5 2650.5M467.4 2615.9L354.7 2635.8M803.6 2539.3L689.3 2542.2M690.9 2564.2A228.8 228.8 0 0 1 689.8 2520.2M690.9 2564.2L577.4 2578.1M577.4 2578.1L463.8 2592M463.8 2592L350.3 2606M689.6 2549.9L575.4 2556.7M575.4 2556.7L461.2 2563.5M461.2 2563.5L347 2570.3M689.2 2534.8L574.8 2534M574.8 2534L460.4 2533.2M460.4 2533.2L346 2532.5M689.8 2520.2L575.6 2512.2M575.6 2512.2L461.5 2504.2M461.5 2504.2L347.4 2496.2M805.1 2517.8L692.2 2499.3M692.2 2499.3L579.3 2480.8M579.3 2480.8L466.4 2462.3M463.9 2480A457.6 457.6 0 0 1 469.7 2444.6M463.9 2480L350.3 2465.9M465.5 2468.2L352.4 2451.1M467.4 2456.4L354.8 2436.4M469.7 2444.6L357.6 2421.7M918 2536.3L810 2498.7M808.4 2503.3A114.4 114.4 0 0 1 811.7 2494.1M808.4 2503.3L698.9 2470.4M698.9 2470.4L589.3 2437.4M589.3 2437.4L479.8 2404.5M479.8 2404.5L370.2 2371.5M811.7 2494.1L705.3 2452M705.3 2452L599 2409.8M599 2409.8L492.6 2367.6M492.6 2367.6L386.3 2325.4M918 2536.3L818.2 2480.5M818.2 2480.5L718.3 2424.6M718.3 2424.6L618.5 2368.8M618.5 2368.8L518.6 2312.9M518.6 2312.9L418.8 2257.1M918 2536.3L826.3 2467.9M826.3 2467.9L734.7 2399.4M734.7 2399.4L643 2331M643 2331L551.3 2262.5M551.3 2262.5L459.7 2194.1M918 2536.3L835.6 2456.9M835.6 2456.9L753.3 2377.5M748.2 2382.9A228.8 228.8 0 0 1 758.5 2372.3M748.2 2382.9L663.4 2306.2M663.4 2306.2L578.5 2229.5M578.5 2229.5L493.6 2152.8M758.5 2372.3L678.7 2290.2M678.7 2290.2L599 2208.2M599 2208.2L519.2 2126.2M918 2536.3L848.7 2445.3M848.7 2445.3L779.4 2354.3M773.7 2358.7A228.8 228.8 0 0 1 785.1 2350M773.7 2358.7L701.6 2270M701.6 2270L629.4 2181.2M629.4 2181.2L557.3 2092.4M785.1 2350L718.7 2256.9M718.7 2256.9L652.3 2163.8M652.3 2163.8L585.8 2070.6M918 2536.3L861.1 2437M861.1 2437L804.3 2337.8M804.3 2337.8L747.4 2238.5M747.4 2238.5L690.6 2139.2M690.6 2139.2L633.7 2039.9M918 2536.3L874.6 2430.5M874.6 2430.5L831.2 2324.6M831.2 2324.6L787.8 2218.8M787.8 2218.8L744.4 2112.9M744.4 2112.9L701 2007.1M918 2536.3L888.4 2425.8M888.4 2425.8L858.8 2315.3M858.8 2315.3L829.2 2204.8M829.2 2204.8L799.7 2094.3M799.7 2094.3L770.1 1983.8M918 2536.3L902.9 2422.9M902.9 2422.9L887.8 2309.5M887.8 2309.5L872.7 2196.1M872.7 2196.1L857.7 2082.7M857.7 2082.7L842.6 1969.3" fill="none" stroke="#7c7c7a" stroke-width="1.8"/>
<g stroke="#6e6e68" stroke-width="1.5">
<circle cx="1013.6" cy="2599.2" r="13.7" fill="#eeee00"/>
<circle cx="1135.9" cy="2466.6" r="13.2" fill="#eeee00"/>
<circle cx="1244.9" cy="2431.7" r="12.2" fill="#eeee00"/>
<circle cx="1064.6" cy="2102.8" r="12.5" fill="#eeee00"/>
<circle cx="933.4" cy="1964.5" r="9.8" fill="#ff0000"/>
<circle cx="948.2" cy="1965.1" r="2.9" fill="#eeee00"/>
<circle cx="963.1" cy="1966.1" r="4.9" fill="#eeee00"/>
<circle cx="977.9" cy="1967.4" r="10.8" fill="#0000ff"/>
<circle cx="992.7" cy="1969.2" r="2.9" fill="#eeee00"/>
<circle cx="1007.4" cy="1971.3" r="8.8" fill="#0000ff"/>
<circle cx="1022.1" cy="1973.8" r="10.8" fill="#eeee00"/>
<circle cx="1036.7" cy="1976.7" r="9.8" fill="#eeee00"/>
<circle cx="1051.2" cy="1980" r="11.8" fill="#ff0000"/>
<circle cx="1065.6" cy="1983.7" r="6.9" fill="#ff0000"/>
<circle cx="1079.9" cy="1987.7" r="7.8" fill="#eeee00"/>
<circle cx="1094.2" cy="1992.1" r="3.9" fill="#eeee00"/>
<circle cx="1108.3" cy="1996.9" r="8.8" fill="#ff0000"/>
<circle cx="1122.2" cy="2002" r="5.9" fill="#eeee00"/>
<circle cx="1136.1" cy="2007.5" r="4.9" fill="#eeee00"/>
<circle cx="1149.8" cy="2013.4" r="2.9" fill="#eeee00"/>
<circle cx="1163.3" cy="2019.6" r="10.8" fill="#eeee00"/>
<circle cx="1176.7" cy="2026.1" r="4.9" fill="#eeee00"/>
<circle cx="1202.9" cy="2040.3" r="1.5" fill="#9a9a20" stroke="none"/>
<circle cx="1215.7" cy="2047.9" r="6.9" fill="#0000ff"/>
<circle cx="1228.3" cy="2055.8" r="6.9" fill="#0000ff"/>
<circle cx="1240.7" cy="2064" r="7.8" fill="#eeee00"/>
<circle cx="1252.9" cy="2072.6" r="7.8" fill="#eeee00"/>
<circle cx="1227.8" cy="2199.5" r="8.3" fill="#eeee00"/>
<circle cx="1276.8" cy="2090.8" r="6.9" fill="#eeee00"/>
<circle cx="1288.3" cy="2100.4" r="2" fill="#9a9a20" stroke="none"/>
<circle cx="1299.7" cy="2110.3" r="5.9" fill="#eeee00"/>
<circle cx="1310.7" cy="2120.4" r="4.9" fill="#eeee00"/>
<circle cx="1321.5" cy="2130.9" r="4.9" fill="#eeee00"/>
<circle cx="1332" cy="2141.6" r="6.9" fill="#eeee00"/>
<circle cx="1275.6" cy="2250.7" r="7.8" fill="#0000ff"/>
<circle cx="1350.9" cy="2162.4" r="6.9" fill="#eeee00"/>
<circle cx="1360.3" cy="2173.6" r="6.9" fill="#eeee00"/>
<circle cx="1369.5" cy="2185.1" r="4.9" fill="#eeee00"/>
<circle cx="1378.4" cy="2196.8" r="1" fill="#9a9a20" stroke="none"/>
<circle cx="1364.8" cy="2437.4" r="12.7" fill="#0000ff"/>
<circle cx="1395.6" cy="2221.5" r="4.9" fill="#eeee00"/>
<circle cx="1403.6" cy="2234" r="8.8" fill="#eeee00"/>
<circle cx="1411.3" cy="2246.8" r="10.8" fill="#eeee00"/>
<circle cx="1418.7" cy="2259.8" r="8.8" fill="#0000ff"/>
<circle cx="1425.7" cy="2272.9" r="4.9" fill="#eeee00"/>
<circle cx="1432.4" cy="2286.2" r="4.9" fill="#eeee00"/>
<circle cx="1438.8" cy="2299.7" r="7.8" fill="#0000ff"/>
<circle cx="1444.8" cy="2313.4" r="2" fill="#9a9a20" stroke="none"/>
<circle cx="1450.4" cy="2327.2" r="8.8" fill="#ff0000"/>
<circle cx="1455.7" cy="2341.2" r="10.8" fill="#0000ff"/>
<circle cx="1460.6" cy="2355.2" r="2.9" fill="#0000ff"/>
<circle cx="1465.1" cy="2369.5" r="2.9" fill="#eeee00"/>
<circle cx="1469.3" cy="2383.8" r="7.8" fill="#eeee00"/>
<circle cx="1473.1" cy="2398.2" r="7.8" fill="#eeee00"/>
<circle cx="1476.5" cy="2412.7" r="3.9" fill="#eeee00"/>
<circle cx="1479.5" cy="2427.3" r="8.8" fill="#0000ff"/>
<circle cx="1482.2" cy="2442" r="7.8" fill="#eeee00"/>
<circle cx="1484.4" cy="2456.7" r="6.9" fill="#eeee00"/>
<circle cx="1486.3" cy="2471.5" r="11.8" fill="#eeee00"/>
<circle cx="1487.8" cy="2486.4" r="9.8" fill="#0000ff"/>
<circle cx="1488.9" cy="2501.2" r="10.8" fill="#0000ff"/>
<circle cx="1489.6" cy="2516.1" r="11.8" fill="#0000ff"/>
<circle cx="1490" cy="2531" r="8.8" fill="#eeee00"/>
<circle cx="1489.9" cy="2545.9" r="6.9" fill="#eeee00"/>
<circle cx="1489.5" cy="2560.8" r="7.8" fill="#eeee00"/>
<circle cx="1488.6" cy="2575.7" r="8.8" fill="#0000ff"/>
<circle cx="1487.4" cy="2590.6" r="8.8" fill="#0000ff"/>
<circle cx="1485.8" cy="2605.4" r="4.9" fill="#ff0000"/>
<circle cx="1366.8" cy="2625.5" r="3.4" fill="#ff0000"/>
<circle cx="1479" cy="2647.8" r="3.4" fill="#ff0000"/>
<circle cx="1355" cy="2672.1" r="2.9" fill="#eeee00"/>
<circle cx="1464.2" cy="2706" r="2.9" fill="#eeee00"/>
<circle cx="1345.2" cy="2700.2" r="2.9" fill="#eeee00"/>
<circle cx="1454.6" cy="2734.4" r="2.9" fill="#eeee00"/>
<circle cx="1331.3" cy="2732.8" r="9.8" fill="#eeee00"/>
<circle cx="1438.2" cy="2774.2" r="9.8" fill="#ff0000"/>
<circle cx="1430.9" cy="2789.5" r="4.9" fill="#eeee00"/>
<circle cx="1317.5" cy="2759.4" r="6.9" fill="#eeee00"/>
<circle cx="1417.4" cy="2815.2" r="6.9" fill="#eeee00"/>
<circle cx="1305.3" cy="2780" r="8.8" fill="#0000ff"/>
<circle cx="1402.1" cy="2841" r="8.8" fill="#0000ff"/>
<circle cx="1289.2" cy="2803.9" r="8.8" fill="#0000ff"/>
<circle cx="1386.6" cy="2864.3" r="6.9" fill="#0000ff"/>
<circle cx="1377.3" cy="2877.3" r="8.8" fill="#eeee00"/>
<circle cx="1078.2" cy="2699.7" r="10.8" fill="#eeee00"/>
<circle cx="1158.3" cy="2781.3" r="10.8" fill="#eeee00"/>
<circle cx="1238.4" cy="2863" r="10.8" fill="#eeee00"/>
<circle cx="1358.8" cy="2900.8" r="9.8" fill="#ff0000"/>
<circle cx="1349.1" cy="2912.2" r="5.9" fill="#eeee00"/>
<circle cx="1339.2" cy="2923.3" r="3.9" fill="#eeee00"/>
<circle cx="1318.5" cy="2944.7" r="2" fill="#9a9a20" stroke="none"/>
<circle cx="1307.8" cy="2955" r="6.9" fill="#eeee00"/>
<circle cx="1296.7" cy="2965" r="4.9" fill="#eeee00"/>
<circle cx="1285.5" cy="2974.7" r="1.5" fill="#9a9a20" stroke="none"/>
<circle cx="998.5" cy="2750.5" r="11.8" fill="#eeee00"/>
<circle cx="1079.4" cy="2839.2" r="11.8" fill="#eeee00"/>
<circle cx="1183.7" cy="2908.8" r="1.5" fill="#9a9a20" stroke="none"/>
<circle cx="1250.2" cy="3002" r="2" fill="#9a9a20" stroke="none"/>
<circle cx="1138.8" cy="2937.1" r="6.9" fill="#eeee00"/>
<circle cx="1187.4" cy="3040.9" r="6.9" fill="#eeee00"/>
<circle cx="1106.7" cy="2953.2" r="8.3" fill="#0000ff"/>
<circle cx="1160.7" cy="3054.3" r="7.8" fill="#eeee00"/>
<circle cx="1147" cy="3060.4" r="8.8" fill="#0000ff"/>
<circle cx="1079" cy="2964.6" r="11.8" fill="#eeee00"/>
<circle cx="1119.3" cy="3071.7" r="11.8" fill="#eeee00"/>
<circle cx="996" cy="2870.5" r="5.4" fill="#eeee00"/>
<circle cx="1050.7" cy="2974.2" r="4.9" fill="#eeee00"/>
<circle cx="1091" cy="3081.5" r="2.9" fill="#eeee00"/>
<circle cx="1076.7" cy="3085.8" r="4.9" fill="#eeee00"/>
<circle cx="940.8" cy="2764" r="5.9" fill="#eeee00"/>
<circle cx="952.2" cy="2877.8" r="5.9" fill="#eeee00"/>
<circle cx="963.6" cy="2991.6" r="5.9" fill="#eeee00"/>
<circle cx="975.1" cy="3105.4" r="5.9" fill="#eeee00"/>
<circle cx="879.7" cy="2644.1" r="12.7" fill="#ff0000"/>
<circle cx="841.4" cy="2751.9" r="12.7" fill="#ff0000"/>
<circle cx="850.4" cy="2872.8" r="12.7" fill="#ff0000"/>
<circle cx="928.2" cy="2993.8" r="8.8" fill="#ff0000"/>
<circle cx="945.2" cy="3107.7" r="7.8" fill="#ff0000"/>
<circle cx="931.3" cy="3108.1" r="8.8" fill="#ff0000"/>
<circle cx="916.4" cy="3108.3" r="2.9" fill="#eeee00"/>
<circle cx="886.8" cy="2992.8" r="11.8" fill="#ff0000"/>
<circle cx="886.5" cy="3107.4" r="7.8" fill="#ff0000"/>
<circle cx="871.6" cy="3106.4" r="11.8" fill="#ff0000"/>
<circle cx="845.7" cy="2988.1" r="11.8" fill="#eeee00"/>
<circle cx="841.9" cy="3103.2" r="8.8" fill="#0000ff"/>
<circle cx="828.1" cy="3101.2" r="4.9" fill="#eeee00"/>
<circle cx="813.4" cy="3098.6" r="10.8" fill="#eeee00"/>
<circle cx="810.1" cy="2981" r="5.9" fill="#eeee00"/>
<circle cx="783.2" cy="3092.2" r="5.9" fill="#eeee00"/>
<circle cx="781.7" cy="2973.1" r="8.8" fill="#0000ff"/>
<circle cx="755.3" cy="3084.7" r="8.8" fill="#0000ff"/>
<circle cx="753.2" cy="2963.2" r="10.8" fill="#eeee00"/>
<circle cx="712" cy="3069.9" r="10.8" fill="#eeee00"/>
<circle cx="731.9" cy="2954.3" r="6.9" fill="#eeee00"/>
<circle cx="685.3" cy="3058.8" r="6.9" fill="#eeee00"/>
<circle cx="758.2" cy="2840.1" r="2.9" fill="#0000ff"/>
<circle cx="705" cy="2941.3" r="2.5" fill="#0000ff"/>
<circle cx="651.7" cy="3042.6" r="2.5" fill="#0000ff"/>
<circle cx="831.7" cy="2611.4" r="10.8" fill="#eeee00"/>
<circle cx="745.4" cy="2686.5" r="11.8" fill="#eeee00"/>
<circle cx="705.8" cy="2806.1" r="9.8" fill="#0000ff"/>
<circle cx="679" cy="2926.6" r="2.9" fill="#eeee00"/>
<circle cx="619.3" cy="3024.1" r="3.9" fill="#eeee00"/>
<circle cx="644.3" cy="2903" r="9.8" fill="#0000ff"/>
<circle cx="594.3" cy="3007.9" r="6.9" fill="#eeee00"/>
<circle cx="582.1" cy="2999.3" r="2.9" fill="#eeee00"/>
<circle cx="570.1" cy="2990.3" r="8.8" fill="#0000ff"/>
<circle cx="557.9" cy="2980.7" r="4.9" fill="#eeee00"/>
<circle cx="612.7" cy="2877.2" r="3.9" fill="#eeee00"/>
<circle cx="536.4" cy="2962.4" r="3.9" fill="#eeee00"/>
<circle cx="660.3" cy="2762.9" r="2" fill="#9a9a20" stroke="none"/>
<circle cx="574.4" cy="2838.5" r="2" fill="#9a9a20" stroke="none"/>
<circle cx="488.5" cy="2914" r="2" fill="#9a9a20" stroke="none"/>
<circle cx="646.1" cy="2745.7" r="11.8" fill="#ff0000"/>
<circle cx="555.4" cy="2815.4" r="11.8" fill="#ff0000"/>
<circle cx="464.8" cy="2885.2" r="11.8" fill="#ff0000"/>
<circle cx="621.4" cy="2709" r="2.9" fill="#eeee00"/>
<circle cx="522.6" cy="2766.6" r="3.9" fill="#eeee00"/>
<circle cx="423.7" cy="2824.2" r="3.9" fill="#eeee00"/>
<circle cx="804" cy="2545.6" r="10.8" fill="#0000ff"/>
<circle cx="701.2" cy="2609.6" r="6.9" fill="#eeee00"/>
<circle cx="607" cy="2681.5" r="3.9" fill="#eeee00"/>
<circle cx="508.6" cy="2740.7" r="4.9" fill="#eeee00"/>
<circle cx="406.2" cy="2791.8" r="3.9" fill="#eeee00"/>
<circle cx="498.5" cy="2719.1" r="2" fill="#9a9a20" stroke="none"/>
<circle cx="393.6" cy="2764.7" r="2" fill="#9a9a20" stroke="none"/>
<circle cx="593.6" cy="2648.3" r="7.8" fill="#eeee00"/>
<circle cx="485.5" cy="2685.7" r="8.8" fill="#eeee00"/>
<circle cx="382.4" cy="2737.1" r="7.8" fill="#eeee00"/>
<circle cx="372.7" cy="2708.9" r="2.9" fill="#eeee00"/>
<circle cx="582.7" cy="2609.5" r="2.5" fill="#eeee00"/>
<circle cx="470.9" cy="2633.9" r="3.4" fill="#eeee00"/>
<circle cx="364.5" cy="2680.6" r="2.9" fill="#eeee00"/>
<circle cx="357.5" cy="2650.5" r="2" fill="#9a9a20" stroke="none"/>
<circle cx="689.3" cy="2542.2" r="5.4" fill="#eeee00"/>
<circle cx="577.4" cy="2578.1" r="2" fill="#9a9a20" stroke="none"/>
<circle cx="463.8" cy="2592" r="2" fill="#9a9a20" stroke="none"/>
<circle cx="350.3" cy="2606" r="2" fill="#9a9a20" stroke="none"/>
<circle cx="575.6" cy="2512.2" r="5.4" fill="#eeee00"/>
<circle cx="461.5" cy="2504.2" r="5.4" fill="#eeee00"/>
<circle cx="347.4" cy="2496.2" r="5.4" fill="#eeee00"/>
<circle cx="692.2" cy="2499.3" r="10.8" fill="#0000ff"/>
<circle cx="579.3" cy="2480.8" r="10.8" fill="#0000ff"/>
<circle cx="466.4" cy="2462.3" r="10.8" fill="#0000ff"/>
<circle cx="350.3" cy="2465.9" r="10.8" fill="#0000ff"/>
<circle cx="352.4" cy="2451.1" r="8.8" fill="#eeee00"/>
<circle cx="354.8" cy="2436.4" r="2" fill="#9a9a20" stroke="none"/>
<circle cx="357.6" cy="2421.7" r="7.8" fill="#0000ff"/>
<circle cx="810" cy="2498.7" r="6.9" fill="#eeee00"/>
<circle cx="698.9" cy="2470.4" r="2" fill="#9a9a20" stroke="none"/>
<circle cx="589.3" cy="2437.4" r="2" fill="#9a9a20" stroke="none"/>
<circle cx="479.8" cy="2404.5" r="2" fill="#9a9a20" stroke="none"/>
<circle cx="370.2" cy="2371.5" r="2" fill="#9a9a20" stroke="none"/>
<circle cx="705.3" cy="2452" r="6.9" fill="#eeee00"/>
<circle cx="599" cy="2409.8" r="7.3" fill="#eeee00"/>
<circle cx="492.6" cy="2367.6" r="7.8" fill="#eeee00"/>
<circle cx="386.3" cy="2325.4" r="8.8" fill="#eeee00"/>
<circle cx="818.2" cy="2480.5" r="5.4" fill="#eeee00"/>
<circle cx="718.3" cy="2424.6" r="5.4" fill="#eeee00"/>
<circle cx="618.5" cy="2368.8" r="5.9" fill="#eeee00"/>
<circle cx="518.6" cy="2312.9" r="5.9" fill="#eeee00"/>
<circle cx="418.8" cy="2257.1" r="5.9" fill="#eeee00"/>
<circle cx="835.6" cy="2456.9" r="7.8" fill="#eeee00"/>
<circle cx="753.3" cy="2377.5" r="8.8" fill="#eeee00"/>
<circle cx="663.4" cy="2306.2" r="7.8" fill="#eeee00"/>
<circle cx="578.5" cy="2229.5" r="7.8" fill="#eeee00"/>
<circle cx="493.6" cy="2152.8" r="6.9" fill="#eeee00"/>
<circle cx="678.7" cy="2290.2" r="6.9" fill="#eeee00"/>
<circle cx="599" cy="2208.2" r="6.9" fill="#eeee00"/>
<circle cx="519.2" cy="2126.2" r="6.9" fill="#eeee00"/>
<circle cx="848.7" cy="2445.3" r="10.8" fill="#eeee00"/>
<circle cx="779.4" cy="2354.3" r="12.7" fill="#eeee00"/>
<circle cx="718.7" cy="2256.9" r="12.7" fill="#eeee00"/>
<circle cx="652.3" cy="2163.8" r="13.7" fill="#eeee00"/>
<circle cx="585.8" cy="2070.6" r="13.7" fill="#eeee00"/>
<circle cx="861.1" cy="2437" r="8.8" fill="#eeee00"/>
<circle cx="804.3" cy="2337.8" r="9.8" fill="#eeee00"/>
<circle cx="747.4" cy="2238.5" r="9.8" fill="#eeee00"/>
<circle cx="690.6" cy="2139.2" r="9.8" fill="#eeee00"/>
<circle cx="633.7" cy="2039.9" r="9.8" fill="#eeee00"/>
<circle cx="874.6" cy="2430.5" r="9.8" fill="#eeee00"/>
<circle cx="831.2" cy="2324.6" r="10.8" fill="#eeee00"/>
<circle cx="787.8" cy="2218.8" r="10.8" fill="#eeee00"/>
<circle cx="744.4" cy="2112.9" r="10.8" fill="#eeee00"/>
<circle cx="701" cy="2007.1" r="10.8" fill="#eeee00"/>
<circle cx="902.9" cy="2422.9" r="9.8" fill="#0000ff"/>
<circle cx="887.8" cy="2309.5" r="9.8" fill="#0000ff"/>
<circle cx="872.7" cy="2196.1" r="9.8" fill="#0000ff"/>
<circle cx="857.7" cy="2082.7" r="9.8" fill="#0000ff"/>
<circle cx="842.6" cy="1969.3" r="9.8" fill="#0000ff"/>
</g>
<g font-size="29" fill="#1c1c24">
<text transform="translate(934 1942) rotate(-88.5)" text-anchor="start" dy="10.2">a</text>
<text transform="translate(980.2 1945.1) rotate(-84)" text-anchor="start" dy="10.2">b</text>
<text transform="translate(1010.9 1949.1) rotate(-81)" text-anchor="start" dy="10.2">c</text>
<text transform="translate(1056.4 1958.1) rotate(-76.5)" text-anchor="start" dy="10.2">d</text>
<text transform="translate(1071.4 1961.9) rotate(-75)" text-anchor="start" dy="10.2">e</text>
<text transform="translate(1115.7 1975.7) rotate(-70.6)" text-anchor="start" dy="10.2">f</text>
<text transform="translate(1227.4 2028.6) rotate(-58.6)" text-anchor="start" dy="10.2">g</text>
<text transform="translate(1240.5 2036.9) rotate(-57.1)" text-anchor="start" dy="10.2">h</text>
<text transform="translate(1293.1 2236.7) rotate(-38.6)" text-anchor="start" dy="10.2">i</text>
<text transform="translate(1386.8 2432.6) rotate(-12.5)" text-anchor="start" dy="10.2">j</text>
<text transform="translate(1438.4 2248.9) rotate(-28.9)" text-anchor="start" dy="10.2">k</text>
<text transform="translate(1459.3 2290.4) rotate(-24.4)" text-anchor="start" dy="10.2">l</text>
<text transform="translate(1471.4 2319) rotate(-21.4)" text-anchor="start" dy="10.2">m</text>
<text transform="translate(1476.8 2333.5) rotate(-19.9)" text-anchor="start" dy="10.2">n</text>
<text transform="translate(1481.9 2348.1) rotate(-18.5)" text-anchor="start" dy="10.2">o</text>
<text transform="translate(1501.6 2423) rotate(-11)" text-anchor="start" dy="10.2">p</text>
<text transform="translate(1510.2 2484.4) rotate(-5)" text-anchor="start" dy="10.2">q</text>
<text transform="translate(1511.4 2499.8) rotate(-3.5)" text-anchor="start" dy="10.2">r</text>
<text transform="translate(1512.1 2515.3) rotate(-2)" text-anchor="start" dy="10.2">s</text>
<text transform="translate(1511.1 2577.3) rotate(4)" text-anchor="start" dy="10.2">t</text>
<text transform="translate(1509.8 2592.7) rotate(5.4)" text-anchor="start" dy="10.2">u</text>
<text transform="translate(1508.1 2608.1) rotate(6.9)" text-anchor="start" dy="10.2">v</text>
<text transform="translate(1388.9 2629.9) rotate(11.2)" text-anchor="start" dy="10.2">w</text>
<text transform="translate(1501.1 2652.2) rotate(11.2)" text-anchor="start" dy="10.2">x</text>
<text transform="translate(1458.7 2783.5) rotate(24.6)" text-anchor="start" dy="10.2">y</text>
<text transform="translate(1324.3 2792) rotate(32.2)" text-anchor="start" dy="10.2">z</text>
<text transform="translate(1421.1 2853) rotate(32.2)" text-anchor="start" dy="10.2">a1</text>
<text transform="translate(1307.4 2817.1) rotate(35.8)" text-anchor="start" dy="10.2">b1</text>
<text transform="translate(1405.1 2877.2) rotate(35)" text-anchor="start" dy="10.2">c1</text>
<text transform="translate(1376.1 2915.2) rotate(39.6)" text-anchor="start" dy="10.2">d1</text>
<text transform="translate(1116 2973.7) rotate(65.6)" text-anchor="start" dy="10.2">e1</text>
<text transform="translate(1156 3081.1) rotate(66.4)" text-anchor="start" dy="10.2">f1</text>
<text transform="translate(872.2 2665.3) rotate(-70.4)" text-anchor="end" dy="10.2">g1</text>
<text transform="translate(833.9 2773.1) rotate(-70.4)" text-anchor="end" dy="10.2">h1</text>
<text transform="translate(845.9 2894.8) rotate(-78.6)" text-anchor="end" dy="10.2">i1</text>
<text transform="translate(928.8 3016.3) rotate(88.7)" text-anchor="start" dy="10.2">j1</text>
<text transform="translate(946.3 3130.1) rotate(87.3)" text-anchor="start" dy="10.2">k1</text>
<text transform="translate(931.8 3130.6) rotate(88.7)" text-anchor="start" dy="10.2">l1</text>
<text transform="translate(885.3 3015.3) rotate(-86.1)" text-anchor="end" dy="10.2">m1</text>
<text transform="translate(885.3 3129.9) rotate(-86.8)" text-anchor="end" dy="10.2">n1</text>
<text transform="translate(869.8 3128.8) rotate(-85.3)" text-anchor="end" dy="10.2">o1</text>
<text transform="translate(838.9 3125.5) rotate(-82.4)" text-anchor="end" dy="10.2">p1</text>
<text transform="translate(775 2994.6) rotate(-72.7)" text-anchor="end" dy="10.2">q1</text>
<text transform="translate(748.9 3106.2) rotate(-73.5)" text-anchor="end" dy="10.2">r1</text>
<text transform="translate(747.8 2860) rotate(-62.3)" text-anchor="end" dy="10.2">s1</text>
<text transform="translate(694.5 2961.2) rotate(-62.3)" text-anchor="end" dy="10.2">t1</text>
<text transform="translate(641.3 3062.5) rotate(-62.3)" text-anchor="end" dy="10.2">u1</text>
<text transform="translate(691.9 2823.8) rotate(-51.8)" text-anchor="end" dy="10.2">v1</text>
<text transform="translate(630.8 2921) rotate(-53.3)" text-anchor="end" dy="10.2">w1</text>
<text transform="translate(556.4 3008.2) rotate(-52.5)" text-anchor="end" dy="10.2">x1</text>
<text transform="translate(628.2 2759.4) rotate(-37.6)" text-anchor="end" dy="10.2">y1</text>
<text transform="translate(537.6 2829.2) rotate(-37.6)" text-anchor="end" dy="10.2">z1</text>
<text transform="translate(446.9 2899) rotate(-37.6)" text-anchor="end" dy="10.2">a2</text>
<text transform="translate(781.6 2547.5) rotate(-4.7)" text-anchor="end" dy="10.2">b2</text>
<text transform="translate(670 2495.6) rotate(9.3)" text-anchor="end" dy="10.2">c2</text>
<text transform="translate(557.1 2477.1) rotate(9.3)" text-anchor="end" dy="10.2">d2</text>
<text transform="translate(444.2 2458.6) rotate(9.3)" text-anchor="end" dy="10.2">e2</text>
<text transform="translate(328 2463.2) rotate(7.1)" text-anchor="end" dy="10.2">f2</text>
<text transform="translate(335.5 2417.2) rotate(11.6)" text-anchor="end" dy="10.2">g2</text>
<text transform="translate(899.9 2400.6) rotate(82.4)" text-anchor="end" dy="10.2">h2</text>
<text transform="translate(884.9 2287.2) rotate(82.4)" text-anchor="end" dy="10.2">i2</text>
<text transform="translate(869.8 2173.8) rotate(82.4)" text-anchor="end" dy="10.2">j2</text>
<text transform="translate(854.7 2060.4) rotate(82.4)" text-anchor="end" dy="10.2">k2</text>
<text transform="translate(839.6 1947) rotate(82.4)" text-anchor="end" dy="10.2">l2</text>
</g>
</g>
<g font-size="30.5" fill="#222">
<rect x="32" y="41.4" width="47.5" height="38.3" fill="#ff0000"/><text x="105" y="79.7">NCD</text>
<rect x="32" y="92.7" width="47.5" height="37.8" fill="#0000ff"/><text x="105" y="130.5">HFD</text>
<rect x="22" y="1821.4" width="47.5" height="38.3" fill="#0000ff"/><text x="95" y="1859.7">HFD</text>
<rect x="22" y="1872.7" width="47.5" height="37.8" fill="#ff0000"/><text x="95" y="1910.5">HFD_AB</text>
</g>
<clipPath id="cl1"><rect x="1868" y="32" width="508.3" height="1716"/></clipPath>
<g clip-path="url(#cl1)" font-size="20.6" fill="#585858">
<rect x="1873.2" y="42.1" width="38.5" height="16.5" fill="#0000ff"/>
<text x="1937.6" y="61.4">a : p__Firmicutes</text>
<rect x="1873.2" y="80.4" width="38.5" height="16.5" fill="#0000ff"/>
<text x="1937.6" y="99.7">b : c__Clostridia</text>
<rect x="1873.2" y="118.8" width="38.5" height="16.5" fill="#0000ff"/>
<text x="1937.6" y="138.1">c : o__Clostridiales</text>
<rect x="1873.2" y="157.1" width="38.5" height="16.5" fill="#0000ff"/>
<text x="1937.6" y="176.4">d : f__Lachnospiraceae</text>
<rect x="1873.2" y="195.5" width="38.5" height="16.5" fill="#0000ff"/>
<text x="1937.6" y="214.8">e : g__Lachnoclostridium</text>
<rect x="1873.2" y="233.8" width="38.5" height="16.5" fill="#0000ff"/>
<text x="1937.6" y="253.1">f : g__Blautia</text>
<rect x="1873.2" y="272.1" width="38.5" height="16.5" fill="#0000ff"/>
<text x="1937.6" y="291.4">g : g__Tyzzerella</text>
<rect x="1873.2" y="310.5" width="38.5" height="16.5" fill="#0000ff"/>
<text x="1937.6" y="329.8">h : g__unclassified_f__Lachnospiraceae</text>
<rect x="1873.2" y="348.8" width="38.5" height="16.5" fill="#0000ff"/>
<text x="1937.6" y="368.1">i : g__Roseburia</text>
<rect x="1873.2" y="387.2" width="38.5" height="16.5" fill="#0000ff"/>
<text x="1937.6" y="406.5">j : g__Lachnospiraceae_UCG-006</text>
<rect x="1873.2" y="425.5" width="38.5" height="16.5" fill="#ff0000"/>
<text x="1937.6" y="444.8">k : g__Coprococcus_2</text>
<rect x="1873.2" y="463.8" width="38.5" height="16.5" fill="#0000ff"/>
<text x="1937.6" y="483.1">l : g__norank_f__Lachnospiraceae</text>
<rect x="1873.2" y="502.2" width="38.5" height="16.5" fill="#0000ff"/>
<text x="1937.6" y="521.5">m : g__Eubacterium]_xylanophilum_group</text>
<rect x="1873.2" y="540.5" width="38.5" height="16.5" fill="#0000ff"/>
<text x="1937.6" y="559.8">n : g__GCA-900066575</text>
<rect x="1873.2" y="578.9" width="38.5" height="16.5" fill="#0000ff"/>
<text x="1937.6" y="598.2">o : f__Family_XIII</text>
<rect x="1873.2" y="617.2" width="38.5" height="16.5" fill="#0000ff"/>
<text x="1937.6" y="636.5">p : f__Christensenellaceae</text>
<rect x="1873.2" y="655.5" width="38.5" height="16.5" fill="#ff0000"/>
<text x="1937.6" y="674.8">q : g__Catabacter</text>
<rect x="1873.2" y="693.9" width="38.5" height="16.5" fill="#0000ff"/>
<text x="1937.6" y="713.2">r : f__Ruminococcaceae</text>
<rect x="1873.2" y="732.2" width="38.5" height="16.5" fill="#0000ff"/>
<text x="1937.6" y="751.5">s : g__unclassified_f__Ruminococcaceae</text>
<rect x="1873.2" y="770.6" width="38.5" height="16.5" fill="#0000ff"/>
<text x="1937.6" y="789.9">t : g__Anaerotruncus</text>
<rect x="1873.2" y="808.9" width="38.5" height="16.5" fill="#0000ff"/>
<text x="1937.6" y="828.2">u : g__GCA-900066225</text>
<rect x="1873.2" y="847.2" width="38.5" height="16.5" fill="#ff0000"/>
<text x="1937.6" y="866.5">v : g__Ruminococcus_2</text>
<rect x="1873.2" y="885.6" width="38.5" height="16.5" fill="#0000ff"/>
<text x="1937.6" y="904.9">w : g__norank_f__Ruminococcaceae</text>
<rect x="1873.2" y="923.9" width="38.5" height="16.5" fill="#0000ff"/>
<text x="1937.6" y="943.2">x : g__Hydrogenoanaerobacterium</text>
<rect x="1873.2" y="962.3" width="38.5" height="16.5" fill="#0000ff"/>
<text x="1937.6" y="981.6">y : g__Intestinimonas</text>
<rect x="1873.2" y="1000.6" width="38.5" height="16.5" fill="#0000ff"/>
<text x="1937.6" y="1019.9">z : g__Oscillibacter</text>
<rect x="1873.2" y="1038.9" width="38.5" height="16.5" fill="#0000ff"/>
<text x="1937.6" y="1058.2">a1 : g__Ruminiclostridium</text>
<rect x="1873.2" y="1077.3" width="38.5" height="16.5" fill="#0000ff"/>
<text x="1937.6" y="1096.6">b1 : g__Ruminiclostridium_9</text>
<rect x="1873.2" y="1115.6" width="38.5" height="16.5" fill="#0000ff"/>
<text x="1937.6" y="1134.9">c1 : g__Ruminococcaceae_UCG-004</text>
<rect x="1873.2" y="1154" width="38.5" height="16.5" fill="#0000ff"/>
<text x="1937.6" y="1173.3">d1 : g__Ruminiclostridium_5</text>
<rect x="1873.2" y="1192.3" width="38.5" height="16.5" fill="#ff0000"/>
<text x="1937.6" y="1211.6">e1 : f__Defluviitaleaceae</text>
<rect x="1873.2" y="1230.6" width="38.5" height="16.5" fill="#ff0000"/>
<text x="1937.6" y="1249.9">f1 : g__Defluviitaleaceae_UCG-011</text>
<rect x="1873.2" y="1269" width="38.5" height="16.5" fill="#ff0000"/>
<text x="1937.6" y="1288.3">g1 : f__Eubacteriaceae</text>
<rect x="1873.2" y="1307.3" width="38.5" height="16.5" fill="#ff0000"/>
<text x="1937.6" y="1326.6">h1 : g__Anaerofustis</text>
<rect x="1873.2" y="1345.7" width="38.5" height="16.5" fill="#ff0000"/>
<text x="1937.6" y="1365">i1 : f__Peptostreptococcaceae</text>
<rect x="1873.2" y="1384" width="38.5" height="16.5" fill="#ff0000"/>
<text x="1937.6" y="1403.3">j1 : g__Romboutsia</text>
<rect x="1873.2" y="1422.3" width="38.5" height="16.5" fill="#ff0000"/>
<text x="1937.6" y="1441.6">k1 : f__Clostridiaceae_1</text>
<rect x="1873.2" y="1460.7" width="38.5" height="16.5" fill="#ff0000"/>
<text x="1937.6" y="1480">l1 : g__Clostridium_sensu_stricto_1</text>
<rect x="1873.2" y="1499" width="38.5" height="16.5" fill="#0000ff"/>
<text x="1937.6" y="1518.3">m1 : f__Clostridiales_vadinBB60_group</text>
<rect x="1873.2" y="1537.4" width="38.5" height="16.5" fill="#0000ff"/>
<text x="1937.6" y="1556.7">n1 : g__norank_f__Clostridiales_vadinBB60_gro</text>
<rect x="1873.2" y="1575.7" width="38.5" height="16.5" fill="#0000ff"/>
<text x="1937.6" y="1595">o1 : f__Peptococcaceae</text>
<rect x="1873.2" y="1614" width="38.5" height="16.5" fill="#0000ff"/>
<text x="1937.6" y="1633.3">p1 : g__Peptococcus</text>
<rect x="1873.2" y="1652.4" width="38.5" height="16.5" fill="#0000ff"/>
<text x="1937.6" y="1671.7">q1 : g__norank_f__Peptococcaceae</text>
<rect x="1873.2" y="1690.7" width="38.5" height="16.5" fill="#ff0000"/>
<text x="1937.6" y="1710">r1 : c__Erysipelotrichia</text>
</g>
<clipPath id="cl2"><rect x="1851" y="1813" width="523.2" height="1252"/></clipPath>
<g clip-path="url(#cl2)" font-size="20.6" fill="#585858">
<rect x="1856.8" y="1823.1" width="38.5" height="16.5" fill="#ff0000"/>
<text x="1920.6" y="1842.4">a : g__Lachnoclostridium</text>
<rect x="1856.8" y="1861.3" width="38.5" height="16.5" fill="#0000ff"/>
<text x="1920.6" y="1880.6">b : g__Blautia</text>
<rect x="1856.8" y="1899.5" width="38.5" height="16.5" fill="#0000ff"/>
<text x="1920.6" y="1918.8">c : g__Tyzzerella</text>
<rect x="1856.8" y="1937.7" width="38.5" height="16.5" fill="#ff0000"/>
<text x="1920.6" y="1957">d : g__Lachnospiraceae_NK4A136_group</text>
<rect x="1856.8" y="1975.9" width="38.5" height="16.5" fill="#ff0000"/>
<text x="1920.6" y="1995.2">e : g__Lachnospiraceae_UCG-001</text>
<rect x="1856.8" y="2014.1" width="38.5" height="16.5" fill="#ff0000"/>
<text x="1920.6" y="2033.4">f : g__Lachnospiraceae_UCG-006</text>
<rect x="1856.8" y="2052.3" width="38.5" height="16.5" fill="#0000ff"/>
<text x="1920.6" y="2071.6">g : g__Eubacterium]_xylanophilum_group</text>
<rect x="1856.8" y="2090.5" width="38.5" height="16.5" fill="#0000ff"/>
<text x="1920.6" y="2109.8">h : g__GCA-900066575</text>
<rect x="1856.8" y="2128.7" width="38.5" height="16.5" fill="#0000ff"/>
<text x="1920.6" y="2148">i : f__Christensenellaceae</text>
<rect x="1856.8" y="2166.9" width="38.5" height="16.5" fill="#0000ff"/>
<text x="1920.6" y="2186.2">j : f__Ruminococcaceae</text>
<rect x="1856.8" y="2205.1" width="38.5" height="16.5" fill="#0000ff"/>
<text x="1920.6" y="2224.4">k : g__Anaerotruncus</text>
<rect x="1856.8" y="2243.3" width="38.5" height="16.5" fill="#0000ff"/>
<text x="1920.6" y="2262.6">l : g__GCA-900066225</text>
<rect x="1856.8" y="2281.5" width="38.5" height="16.5" fill="#ff0000"/>
<text x="1920.6" y="2300.8">m : g__Ruminococcus_1</text>
<rect x="1856.8" y="2319.7" width="38.5" height="16.5" fill="#0000ff"/>
<text x="1920.6" y="2339">n : g__norank_f__Ruminococcaceae</text>
<rect x="1856.8" y="2357.9" width="38.5" height="16.5" fill="#0000ff"/>
<text x="1920.6" y="2377.2">o : g__Hydrogenoanaerobacterium</text>
<rect x="1856.8" y="2396.1" width="38.5" height="16.5" fill="#0000ff"/>
<text x="1920.6" y="2415.4">p : g__Intestinimonas</text>
<rect x="1856.8" y="2434.3" width="38.5" height="16.5" fill="#0000ff"/>
<text x="1920.6" y="2453.6">q : g__Oscillibacter</text>
<rect x="1856.8" y="2472.5" width="38.5" height="16.5" fill="#0000ff"/>
<text x="1920.6" y="2491.8">r : g__Ruminiclostridium</text>
<rect x="1856.8" y="2510.7" width="38.5" height="16.5" fill="#0000ff"/>
<text x="1920.6" y="2530">s : g__Ruminiclostridium_9</text>
<rect x="1856.8" y="2548.9" width="38.5" height="16.5" fill="#0000ff"/>
<text x="1920.6" y="2568.2">t : g__Ruminiclostridium_5</text>
<rect x="1856.8" y="2587.1" width="38.5" height="16.5" fill="#0000ff"/>
<text x="1920.6" y="2606.4">u : g__Ruminococcaceae_NK4A214_group</text>
<rect x="1856.8" y="2625.3" width="38.5" height="16.5" fill="#ff0000"/>
<text x="1920.6" y="2644.6">v : g__Ruminiclostridium_6</text>
<rect x="1856.8" y="2663.5" width="38.5" height="16.5" fill="#ff0000"/>
<text x="1920.6" y="2682.8">w : f__Defluviitaleaceae</text>
<rect x="1856.8" y="2701.7" width="38.5" height="16.5" fill="#ff0000"/>
<text x="1920.6" y="2721">x : g__Defluviitaleaceae_UCG-011</text>
<rect x="1856.8" y="2739.9" width="38.5" height="16.5" fill="#ff0000"/>
<text x="1920.6" y="2759.2">y : g__Clostridium_sensu_stricto_1</text>
<rect x="1856.8" y="2778.1" width="38.5" height="16.5" fill="#0000ff"/>
<text x="1920.6" y="2797.4">z : f__Clostridiales_vadinBB60_group</text>
<rect x="1856.8" y="2816.3" width="38.5" height="16.5" fill="#0000ff"/>
<text x="1920.6" y="2835.6">a1 : g__norank_f__Clostridiales_vadinBB60_gro</text>
<rect x="1856.8" y="2854.5" width="38.5" height="16.5" fill="#0000ff"/>
<text x="1920.6" y="2873.8">b1 : f__Peptococcaceae</text>
<rect x="1856.8" y="2892.7" width="38.5" height="16.5" fill="#0000ff"/>
<text x="1920.6" y="2912">c1 : g__Peptococcus</text>
<rect x="1856.8" y="2930.9" width="38.5" height="16.5" fill="#ff0000"/>
<text x="1920.6" y="2950.2">d1 : g__Turicibacter</text>
<rect x="1856.8" y="2969.1" width="38.5" height="16.5" fill="#0000ff"/>
<text x="1920.6" y="2988.4">e1 : f__Streptococcaceae</text>
<rect x="1856.8" y="3007.3" width="38.5" height="16.5" fill="#0000ff"/>
<text x="1920.6" y="3026.6">f1 : g__Lactococcus</text>
</g>
<text x="1185" y="3423" text-anchor="middle" font-family="'Liberation Serif', serif" font-size="60" fill="#000">(<tspan font-weight="bold">A</tspan>)</text>
</svg>
</body></html>
